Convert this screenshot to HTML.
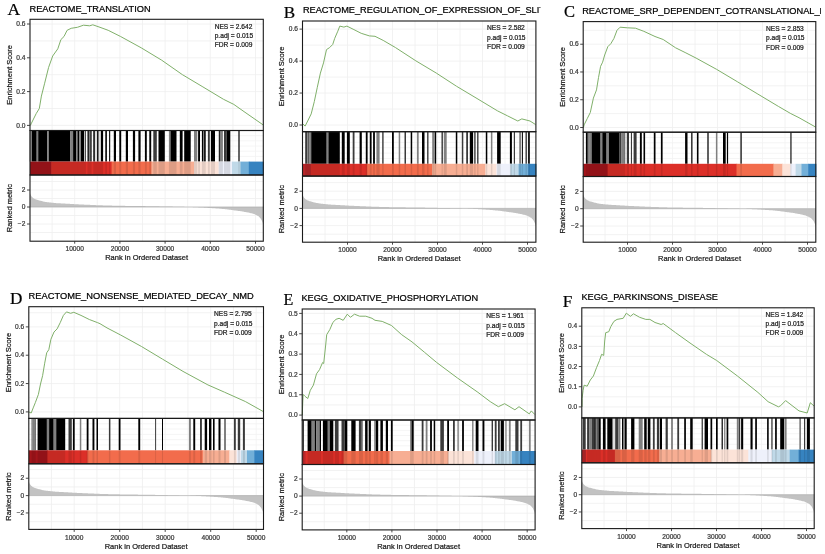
<!DOCTYPE html>
<html><head><meta charset="utf-8"><style>
html,body{margin:0;padding:0;background:#fff;}
svg{display:block;font-family:"Liberation Sans", sans-serif;filter:blur(0.5px);}
</style></head><body>
<svg width="825" height="554" viewBox="0 0 825 554" font-family='"Liberation Sans", sans-serif'>
<rect width="825" height="554" fill="#fff"/>
<line x1="30" y1="125.40" x2="263.3" y2="125.40" stroke="#efefef" stroke-width="0.8"/>
<line x1="30" y1="108.50" x2="263.3" y2="108.50" stroke="#efefef" stroke-width="0.8"/>
<line x1="30" y1="91.60" x2="263.3" y2="91.60" stroke="#efefef" stroke-width="0.8"/>
<line x1="30" y1="74.70" x2="263.3" y2="74.70" stroke="#efefef" stroke-width="0.8"/>
<line x1="30" y1="57.80" x2="263.3" y2="57.80" stroke="#efefef" stroke-width="0.8"/>
<line x1="30" y1="40.90" x2="263.3" y2="40.90" stroke="#efefef" stroke-width="0.8"/>
<line x1="30" y1="24.00" x2="263.3" y2="24.00" stroke="#efefef" stroke-width="0.8"/>
<line x1="52.10" y1="19.3" x2="52.10" y2="130.5" stroke="#efefef" stroke-width="0.8"/>
<line x1="52.10" y1="175" x2="52.10" y2="241.2" stroke="#efefef" stroke-width="0.8"/>
<line x1="52.10" y1="130.5" x2="52.10" y2="161.6" stroke="#f2f2f2" stroke-width="0.8"/>
<line x1="74.70" y1="19.3" x2="74.70" y2="130.5" stroke="#efefef" stroke-width="0.8"/>
<line x1="74.70" y1="175" x2="74.70" y2="241.2" stroke="#efefef" stroke-width="0.8"/>
<line x1="74.70" y1="130.5" x2="74.70" y2="161.6" stroke="#f2f2f2" stroke-width="0.8"/>
<line x1="97.30" y1="19.3" x2="97.30" y2="130.5" stroke="#efefef" stroke-width="0.8"/>
<line x1="97.30" y1="175" x2="97.30" y2="241.2" stroke="#efefef" stroke-width="0.8"/>
<line x1="97.30" y1="130.5" x2="97.30" y2="161.6" stroke="#f2f2f2" stroke-width="0.8"/>
<line x1="119.90" y1="19.3" x2="119.90" y2="130.5" stroke="#efefef" stroke-width="0.8"/>
<line x1="119.90" y1="175" x2="119.90" y2="241.2" stroke="#efefef" stroke-width="0.8"/>
<line x1="119.90" y1="130.5" x2="119.90" y2="161.6" stroke="#f2f2f2" stroke-width="0.8"/>
<line x1="142.50" y1="19.3" x2="142.50" y2="130.5" stroke="#efefef" stroke-width="0.8"/>
<line x1="142.50" y1="175" x2="142.50" y2="241.2" stroke="#efefef" stroke-width="0.8"/>
<line x1="142.50" y1="130.5" x2="142.50" y2="161.6" stroke="#f2f2f2" stroke-width="0.8"/>
<line x1="165.10" y1="19.3" x2="165.10" y2="130.5" stroke="#efefef" stroke-width="0.8"/>
<line x1="165.10" y1="175" x2="165.10" y2="241.2" stroke="#efefef" stroke-width="0.8"/>
<line x1="165.10" y1="130.5" x2="165.10" y2="161.6" stroke="#f2f2f2" stroke-width="0.8"/>
<line x1="187.70" y1="19.3" x2="187.70" y2="130.5" stroke="#efefef" stroke-width="0.8"/>
<line x1="187.70" y1="175" x2="187.70" y2="241.2" stroke="#efefef" stroke-width="0.8"/>
<line x1="187.70" y1="130.5" x2="187.70" y2="161.6" stroke="#f2f2f2" stroke-width="0.8"/>
<line x1="210.30" y1="19.3" x2="210.30" y2="130.5" stroke="#efefef" stroke-width="0.8"/>
<line x1="210.30" y1="175" x2="210.30" y2="241.2" stroke="#efefef" stroke-width="0.8"/>
<line x1="210.30" y1="130.5" x2="210.30" y2="161.6" stroke="#f2f2f2" stroke-width="0.8"/>
<line x1="232.90" y1="19.3" x2="232.90" y2="130.5" stroke="#efefef" stroke-width="0.8"/>
<line x1="232.90" y1="175" x2="232.90" y2="241.2" stroke="#efefef" stroke-width="0.8"/>
<line x1="232.90" y1="130.5" x2="232.90" y2="161.6" stroke="#f2f2f2" stroke-width="0.8"/>
<line x1="255.50" y1="19.3" x2="255.50" y2="130.5" stroke="#efefef" stroke-width="0.8"/>
<line x1="255.50" y1="175" x2="255.50" y2="241.2" stroke="#efefef" stroke-width="0.8"/>
<line x1="255.50" y1="130.5" x2="255.50" y2="161.6" stroke="#f2f2f2" stroke-width="0.8"/>
<line x1="30" y1="135.68" x2="263.3" y2="135.68" stroke="#f2f2f2" stroke-width="0.8"/>
<line x1="30" y1="140.87" x2="263.3" y2="140.87" stroke="#f2f2f2" stroke-width="0.8"/>
<line x1="30" y1="146.05" x2="263.3" y2="146.05" stroke="#f2f2f2" stroke-width="0.8"/>
<line x1="30" y1="151.23" x2="263.3" y2="151.23" stroke="#f2f2f2" stroke-width="0.8"/>
<line x1="30" y1="156.42" x2="263.3" y2="156.42" stroke="#f2f2f2" stroke-width="0.8"/>
<line x1="30" y1="232.50" x2="263.3" y2="232.50" stroke="#efefef" stroke-width="0.8"/>
<line x1="30" y1="224.00" x2="263.3" y2="224.00" stroke="#efefef" stroke-width="0.8"/>
<line x1="30" y1="215.50" x2="263.3" y2="215.50" stroke="#efefef" stroke-width="0.8"/>
<line x1="30" y1="207.00" x2="263.3" y2="207.00" stroke="#efefef" stroke-width="0.8"/>
<line x1="30" y1="198.50" x2="263.3" y2="198.50" stroke="#efefef" stroke-width="0.8"/>
<line x1="30" y1="190.00" x2="263.3" y2="190.00" stroke="#efefef" stroke-width="0.8"/>
<line x1="30" y1="181.50" x2="263.3" y2="181.50" stroke="#efefef" stroke-width="0.8"/>
<polyline points="30.50,125.40 31.10,123.90 33.50,119.00 36.20,113.60 39.30,108.50 41.40,96.10 44.50,83.80 48.60,67.40 52.70,56.00 57.80,48.80 60.90,39.60 64.00,36.50 67.10,30.30 71.20,28.30 77.40,27.30 83.50,25.20 89.70,25.80 92.80,24.80 100.00,27.30 108.20,30.30 120.60,36.50 141.20,47.80 161.70,60.20 182.30,74.60 202.90,86.90 223.50,99.30 233.80,104.40 244.00,111.60 263.00,124.80" fill="none" stroke="#80b06a" stroke-width="1.0" stroke-linejoin="round"/>
<rect x="29.60" y="130.5" width="2.30" height="31.10" fill="#808080"/>
<rect x="31.90" y="130.5" width="4.80" height="31.10" fill="#000000"/>
<rect x="36.70" y="130.5" width="1.50" height="31.10" fill="#808080"/>
<rect x="38.20" y="130.5" width="9.20" height="31.10" fill="#000000"/>
<rect x="47.40" y="130.5" width="1.40" height="31.10" fill="#808080"/>
<rect x="48.80" y="130.5" width="21.60" height="31.10" fill="#000000"/>
<rect x="70.40" y="130.5" width="2.70" height="31.10" fill="#808080"/>
<rect x="73.10" y="130.5" width="3.30" height="31.10" fill="#000000"/>
<rect x="76.40" y="130.5" width="1.10" height="31.10" fill="#808080"/>
<rect x="77.50" y="130.5" width="1.90" height="31.10" fill="#000000"/>
<rect x="79.40" y="130.5" width="1.60" height="31.10" fill="#808080"/>
<rect x="81.00" y="130.5" width="3.00" height="31.10" fill="#000000"/>
<rect x="84.00" y="130.5" width="0.80" height="31.10" fill="#dedede"/>
<rect x="84.80" y="130.5" width="1.10" height="31.10" fill="#3a3a3a"/>
<rect x="87.50" y="130.5" width="1.40" height="31.10" fill="#000000"/>
<rect x="88.90" y="130.5" width="1.40" height="31.10" fill="#808080"/>
<rect x="90.30" y="130.5" width="1.30" height="31.10" fill="#000000"/>
<rect x="93.30" y="130.5" width="1.60" height="31.10" fill="#000000"/>
<rect x="94.90" y="130.5" width="2.20" height="31.10" fill="#dedede"/>
<rect x="97.10" y="130.5" width="1.60" height="31.10" fill="#000000"/>
<rect x="98.70" y="130.5" width="2.20" height="31.10" fill="#dedede"/>
<rect x="100.90" y="130.5" width="2.20" height="31.10" fill="#000000"/>
<rect x="105.30" y="130.5" width="1.60" height="31.10" fill="#000000"/>
<rect x="109.10" y="130.5" width="1.10" height="31.10" fill="#000000"/>
<rect x="113.80" y="130.5" width="2.20" height="31.10" fill="#000000"/>
<rect x="119.30" y="130.5" width="1.90" height="31.10" fill="#000000"/>
<rect x="125.80" y="130.5" width="2.20" height="31.10" fill="#000000"/>
<rect x="132.90" y="130.5" width="2.20" height="31.10" fill="#000000"/>
<rect x="138.40" y="130.5" width="2.20" height="31.10" fill="#000000"/>
<rect x="144.90" y="130.5" width="1.90" height="31.10" fill="#000000"/>
<rect x="149.30" y="130.5" width="1.90" height="31.10" fill="#000000"/>
<rect x="153.30" y="130.5" width="3.50" height="31.10" fill="#3a3a3a"/>
<rect x="158.50" y="130.5" width="6.30" height="31.10" fill="#000000"/>
<rect x="168.90" y="130.5" width="1.60" height="31.10" fill="#808080"/>
<rect x="170.50" y="130.5" width="6.00" height="31.10" fill="#000000"/>
<rect x="179.80" y="130.5" width="2.80" height="31.10" fill="#000000"/>
<rect x="184.20" y="130.5" width="6.50" height="31.10" fill="#000000"/>
<rect x="194.00" y="130.5" width="3.30" height="31.10" fill="#808080"/>
<rect x="198.10" y="130.5" width="1.90" height="31.10" fill="#000000"/>
<rect x="201.90" y="130.5" width="1.10" height="31.10" fill="#000000"/>
<rect x="203.00" y="130.5" width="1.10" height="31.10" fill="#808080"/>
<rect x="204.10" y="130.5" width="1.60" height="31.10" fill="#000000"/>
<rect x="207.90" y="130.5" width="1.90" height="31.10" fill="#3a3a3a"/>
<rect x="210.90" y="130.5" width="4.10" height="31.10" fill="#000000"/>
<rect x="218.80" y="130.5" width="1.10" height="31.10" fill="#000000"/>
<rect x="219.90" y="130.5" width="3.00" height="31.10" fill="#808080"/>
<rect x="224.00" y="130.5" width="2.70" height="31.10" fill="#3a3a3a"/>
<rect x="226.70" y="130.5" width="3.60" height="31.10" fill="#000000"/>
<rect x="238.40" y="130.5" width="1.20" height="31.10" fill="#000000"/>
<rect x="30.00" y="161.6" width="21.90" height="13.40" fill="#a3151b"/>
<rect x="51.30" y="161.6" width="60.90" height="13.40" fill="#dc2f28"/>
<rect x="111.60" y="161.6" width="40.40" height="13.40" fill="#f26c4c"/>
<rect x="151.40" y="161.6" width="43.20" height="13.40" fill="#f7ae93"/>
<rect x="194.00" y="161.6" width="25.20" height="13.40" fill="#fce3d8"/>
<rect x="218.60" y="161.6" width="14.00" height="13.40" fill="#eef1fb"/>
<rect x="232.00" y="161.6" width="9.10" height="13.40" fill="#c0d9e8"/>
<rect x="240.50" y="161.6" width="8.90" height="13.40" fill="#72afd8"/>
<rect x="248.80" y="161.6" width="15.10" height="13.40" fill="#3683c0"/>
<rect x="29.60" y="161.6" width="2.30" height="13.40" fill="#000" opacity="0.10"/>
<rect x="31.90" y="161.6" width="4.80" height="13.40" fill="#000" opacity="0.10"/>
<rect x="36.70" y="161.6" width="1.50" height="13.40" fill="#000" opacity="0.10"/>
<rect x="38.20" y="161.6" width="9.20" height="13.40" fill="#000" opacity="0.10"/>
<rect x="47.40" y="161.6" width="1.40" height="13.40" fill="#000" opacity="0.10"/>
<rect x="48.80" y="161.6" width="21.60" height="13.40" fill="#000" opacity="0.10"/>
<rect x="70.40" y="161.6" width="2.70" height="13.40" fill="#000" opacity="0.10"/>
<rect x="73.10" y="161.6" width="3.30" height="13.40" fill="#000" opacity="0.10"/>
<rect x="76.40" y="161.6" width="1.10" height="13.40" fill="#000" opacity="0.10"/>
<rect x="77.50" y="161.6" width="1.90" height="13.40" fill="#000" opacity="0.10"/>
<rect x="79.40" y="161.6" width="1.60" height="13.40" fill="#000" opacity="0.10"/>
<rect x="81.00" y="161.6" width="3.00" height="13.40" fill="#000" opacity="0.10"/>
<rect x="84.00" y="161.6" width="0.80" height="13.40" fill="#000" opacity="0.10"/>
<rect x="84.80" y="161.6" width="1.10" height="13.40" fill="#000" opacity="0.10"/>
<rect x="87.50" y="161.6" width="1.40" height="13.40" fill="#000" opacity="0.10"/>
<rect x="88.90" y="161.6" width="1.40" height="13.40" fill="#000" opacity="0.10"/>
<rect x="90.30" y="161.6" width="1.30" height="13.40" fill="#000" opacity="0.10"/>
<rect x="93.30" y="161.6" width="1.60" height="13.40" fill="#000" opacity="0.10"/>
<rect x="94.90" y="161.6" width="2.20" height="13.40" fill="#000" opacity="0.10"/>
<rect x="97.10" y="161.6" width="1.60" height="13.40" fill="#000" opacity="0.10"/>
<rect x="98.70" y="161.6" width="2.20" height="13.40" fill="#000" opacity="0.10"/>
<rect x="100.90" y="161.6" width="2.20" height="13.40" fill="#000" opacity="0.10"/>
<rect x="105.30" y="161.6" width="1.60" height="13.40" fill="#000" opacity="0.10"/>
<rect x="109.10" y="161.6" width="1.10" height="13.40" fill="#000" opacity="0.10"/>
<rect x="113.80" y="161.6" width="2.20" height="13.40" fill="#000" opacity="0.10"/>
<rect x="119.30" y="161.6" width="1.90" height="13.40" fill="#000" opacity="0.10"/>
<rect x="125.80" y="161.6" width="2.20" height="13.40" fill="#000" opacity="0.10"/>
<rect x="132.90" y="161.6" width="2.20" height="13.40" fill="#000" opacity="0.10"/>
<rect x="138.40" y="161.6" width="2.20" height="13.40" fill="#000" opacity="0.10"/>
<rect x="144.90" y="161.6" width="1.90" height="13.40" fill="#000" opacity="0.10"/>
<rect x="149.30" y="161.6" width="1.90" height="13.40" fill="#000" opacity="0.10"/>
<rect x="153.30" y="161.6" width="3.50" height="13.40" fill="#000" opacity="0.10"/>
<rect x="158.50" y="161.6" width="6.30" height="13.40" fill="#000" opacity="0.10"/>
<rect x="168.90" y="161.6" width="1.60" height="13.40" fill="#000" opacity="0.10"/>
<rect x="170.50" y="161.6" width="6.00" height="13.40" fill="#000" opacity="0.10"/>
<rect x="179.80" y="161.6" width="2.80" height="13.40" fill="#000" opacity="0.10"/>
<rect x="184.20" y="161.6" width="6.50" height="13.40" fill="#000" opacity="0.10"/>
<rect x="194.00" y="161.6" width="3.30" height="13.40" fill="#000" opacity="0.10"/>
<rect x="198.10" y="161.6" width="1.90" height="13.40" fill="#000" opacity="0.10"/>
<rect x="201.90" y="161.6" width="1.10" height="13.40" fill="#000" opacity="0.10"/>
<rect x="203.00" y="161.6" width="1.10" height="13.40" fill="#000" opacity="0.10"/>
<rect x="204.10" y="161.6" width="1.60" height="13.40" fill="#000" opacity="0.10"/>
<rect x="207.90" y="161.6" width="1.90" height="13.40" fill="#000" opacity="0.10"/>
<rect x="210.90" y="161.6" width="4.10" height="13.40" fill="#000" opacity="0.10"/>
<rect x="218.80" y="161.6" width="1.10" height="13.40" fill="#000" opacity="0.10"/>
<rect x="219.90" y="161.6" width="3.00" height="13.40" fill="#000" opacity="0.10"/>
<rect x="224.00" y="161.6" width="2.70" height="13.40" fill="#000" opacity="0.10"/>
<rect x="226.70" y="161.6" width="3.60" height="13.40" fill="#000" opacity="0.10"/>
<rect x="238.40" y="161.6" width="1.20" height="13.40" fill="#000" opacity="0.10"/>
<polygon points="30.00,207.00 30.00,193.23 30.78,195.07 31.56,196.49 32.33,197.25 33.11,197.95 33.89,198.57 34.67,198.90 35.44,199.23 36.22,199.56 37.00,199.82 37.78,200.04 38.55,200.26 39.33,200.47 40.11,200.68 40.89,200.87 41.66,201.06 42.44,201.26 43.22,201.45 44.00,201.65 44.78,201.77 45.55,201.90 46.33,202.02 47.11,202.15 47.89,202.27 48.66,202.37 49.44,202.45 50.22,202.52 51.00,202.60 51.77,202.68 52.55,202.75 53.33,202.83 54.11,202.91 54.89,202.98 55.66,203.06 56.44,203.14 57.22,203.20 58.00,203.24 58.77,203.28 59.55,203.32 60.33,203.36 61.11,203.40 61.88,203.44 62.66,203.48 63.44,203.53 64.22,203.57 65.00,203.61 65.77,203.65 66.55,203.69 67.33,203.73 68.11,203.77 68.88,203.82 69.66,203.87 70.44,203.91 71.22,203.96 71.99,204.00 72.77,204.05 73.55,204.10 74.33,204.14 75.10,204.19 75.88,204.23 76.66,204.28 77.44,204.31 78.22,204.35 78.99,204.38 79.77,204.42 80.55,204.45 81.33,204.49 82.10,204.52 82.88,204.56 83.66,204.59 84.44,204.63 85.21,204.66 85.99,204.69 86.77,204.73 87.55,204.76 88.33,204.80 89.10,204.83 89.88,204.86 90.66,204.90 91.44,204.93 92.21,204.96 92.99,205.00 93.77,205.03 94.55,205.06 95.32,205.10 96.10,205.13 96.88,205.17 97.66,205.20 98.43,205.23 99.21,205.27 99.99,205.30 100.77,205.32 101.55,205.34 102.32,205.36 103.10,205.39 103.88,205.41 104.66,205.43 105.43,205.45 106.21,205.47 106.99,205.49 107.77,205.51 108.54,205.54 109.32,205.56 110.10,205.58 110.88,205.60 111.66,205.62 112.43,205.64 113.21,205.66 113.99,205.69 114.77,205.71 115.54,205.73 116.32,205.74 117.10,205.75 117.88,205.76 118.65,205.77 119.43,205.78 120.21,205.80 120.99,205.81 121.76,205.82 122.54,205.83 123.32,205.84 124.10,205.85 124.88,205.87 125.65,205.88 126.43,205.89 127.21,205.90 127.99,205.91 128.76,205.92 129.54,205.93 130.32,205.95 131.10,205.96 131.87,205.97 132.65,205.98 133.43,205.99 134.21,206.00 134.99,206.01 135.76,206.01 136.54,206.02 137.32,206.03 138.10,206.04 138.87,206.05 139.65,206.06 140.43,206.07 141.21,206.07 141.98,206.08 142.76,206.09 143.54,206.10 144.32,206.11 145.09,206.12 145.87,206.13 146.65,206.13 147.43,206.14 148.21,206.15 148.98,206.17 149.76,206.18 150.54,206.20 151.32,206.21 152.09,206.23 152.87,206.24 153.65,206.26 154.43,206.27 155.20,206.29 155.98,206.30 156.76,206.32 157.54,206.33 158.32,206.35 159.09,206.36 159.87,206.38 160.65,206.39 161.43,206.41 162.20,206.42 162.98,206.44 163.76,206.45 164.54,206.47 165.31,206.48 166.09,206.50 166.87,206.51 167.65,206.53 168.42,206.54 169.20,206.56 169.98,206.57 170.76,206.59 171.54,206.61 172.31,206.62 173.09,206.64 173.87,206.66 174.65,206.67 175.42,206.69 176.20,206.71 176.98,206.72 177.76,206.74 178.53,206.76 179.31,206.77 180.09,206.79 180.87,206.81 181.65,206.82 182.42,206.84 183.20,206.86 183.98,206.87 184.76,206.89 185.53,206.90 186.31,206.92 187.09,206.94 187.87,206.95 188.64,206.97 189.42,206.99 190.20,207.01 190.98,207.04 191.75,207.08 192.53,207.11 193.31,207.15 194.09,207.18 194.87,207.22 195.64,207.25 196.42,207.29 197.20,207.33 197.98,207.36 198.75,207.40 199.53,207.43 200.31,207.47 201.09,207.50 201.86,207.54 202.64,207.57 203.42,207.61 204.20,207.64 204.98,207.68 205.75,207.73 206.53,207.78 207.31,207.83 208.09,207.88 208.86,207.93 209.64,207.98 210.42,208.03 211.20,208.08 211.97,208.13 212.75,208.18 213.53,208.23 214.31,208.28 215.08,208.33 215.86,208.38 216.64,208.43 217.42,208.48 218.20,208.53 218.97,208.58 219.75,208.65 220.53,208.72 221.31,208.80 222.08,208.88 222.86,208.96 223.64,209.03 224.42,209.11 225.19,209.19 225.97,209.26 226.75,209.34 227.53,209.43 228.31,209.54 229.08,209.65 229.86,209.76 230.64,209.86 231.42,209.97 232.19,210.08 232.97,210.19 233.75,210.29 234.53,210.40 235.30,210.50 236.08,210.60 236.86,210.70 237.64,210.80 238.41,210.90 239.19,211.00 239.97,211.10 240.75,211.20 241.53,211.32 242.30,211.46 243.08,211.60 243.86,211.75 244.64,211.89 245.41,212.03 246.19,212.17 246.97,212.31 247.75,212.45 248.52,212.62 249.30,212.80 250.08,212.99 250.86,213.17 251.63,213.35 252.41,213.54 253.19,213.77 253.97,214.06 254.75,214.34 255.52,214.65 256.30,215.07 257.08,215.50 257.86,215.93 258.63,216.35 259.41,217.20 260.19,218.05 260.97,218.90 261.74,220.51 262.52,222.23 263.30,224.43 263.30,207.00" fill="#c2c2c2" stroke="none"/>
<line x1="30" y1="207.00" x2="263.3" y2="207.00" stroke="#a8a8a8" stroke-width="0.6"/>
<rect x="30" y="19.3" width="233.30" height="111.20" fill="none" stroke="#1a1a1a" stroke-width="1.1"/>
<rect x="30" y="130.5" width="233.30" height="44.50" fill="none" stroke="#1a1a1a" stroke-width="1.1"/>
<rect x="30" y="175" width="233.30" height="66.20" fill="none" stroke="#1a1a1a" stroke-width="1.1"/>
<line x1="27" y1="125.40" x2="30" y2="125.40" stroke="#333" stroke-width="0.9"/>
<text x="25.4" y="127.60" text-anchor="end" font-size="6.6" fill="#383838" stroke="#383838" stroke-width="0.22">0.0</text>
<line x1="27" y1="91.60" x2="30" y2="91.60" stroke="#333" stroke-width="0.9"/>
<text x="25.4" y="93.80" text-anchor="end" font-size="6.6" fill="#383838" stroke="#383838" stroke-width="0.22">0.2</text>
<line x1="27" y1="57.80" x2="30" y2="57.80" stroke="#333" stroke-width="0.9"/>
<text x="25.4" y="60.00" text-anchor="end" font-size="6.6" fill="#383838" stroke="#383838" stroke-width="0.22">0.4</text>
<line x1="27" y1="24.00" x2="30" y2="24.00" stroke="#333" stroke-width="0.9"/>
<text x="25.4" y="26.20" text-anchor="end" font-size="6.6" fill="#383838" stroke="#383838" stroke-width="0.22">0.6</text>
<line x1="27" y1="190.00" x2="30" y2="190.00" stroke="#333" stroke-width="0.9"/>
<text x="25.4" y="192.20" text-anchor="end" font-size="6.6" fill="#383838" stroke="#383838" stroke-width="0.22">2</text>
<line x1="27" y1="207.00" x2="30" y2="207.00" stroke="#333" stroke-width="0.9"/>
<text x="25.4" y="209.20" text-anchor="end" font-size="6.6" fill="#383838" stroke="#383838" stroke-width="0.22">0</text>
<line x1="27" y1="224.00" x2="30" y2="224.00" stroke="#333" stroke-width="0.9"/>
<text x="25.4" y="226.20" text-anchor="end" font-size="6.6" fill="#383838" stroke="#383838" stroke-width="0.22">−2</text>
<line x1="74.70" y1="241.2" x2="74.70" y2="243.7" stroke="#333" stroke-width="0.9"/>
<text x="74.70" y="250.50" text-anchor="middle" font-size="6.6" fill="#383838" stroke="#383838" stroke-width="0.22">10000</text>
<line x1="119.90" y1="241.2" x2="119.90" y2="243.7" stroke="#333" stroke-width="0.9"/>
<text x="119.90" y="250.50" text-anchor="middle" font-size="6.6" fill="#383838" stroke="#383838" stroke-width="0.22">20000</text>
<line x1="165.10" y1="241.2" x2="165.10" y2="243.7" stroke="#333" stroke-width="0.9"/>
<text x="165.10" y="250.50" text-anchor="middle" font-size="6.6" fill="#383838" stroke="#383838" stroke-width="0.22">30000</text>
<line x1="210.30" y1="241.2" x2="210.30" y2="243.7" stroke="#333" stroke-width="0.9"/>
<text x="210.30" y="250.50" text-anchor="middle" font-size="6.6" fill="#383838" stroke="#383838" stroke-width="0.22">40000</text>
<line x1="255.50" y1="241.2" x2="255.50" y2="243.7" stroke="#333" stroke-width="0.9"/>
<text x="255.50" y="250.50" text-anchor="middle" font-size="6.6" fill="#383838" stroke="#383838" stroke-width="0.22">50000</text>
<text x="146.65" y="259.90" text-anchor="middle" font-size="7.5" fill="#1a1a1a" stroke="#1a1a1a" stroke-width="0.22">Rank in Ordered Dataset</text>
<text transform="translate(11.80,74.90) rotate(-90)" text-anchor="middle" font-size="7.5" fill="#1a1a1a" stroke="#1a1a1a" stroke-width="0.22">Enrichment Score</text>
<text transform="translate(11.80,208.10) rotate(-90)" text-anchor="middle" font-size="7.5" fill="#1a1a1a" stroke="#1a1a1a" stroke-width="0.22">Ranked metric</text>
<text x="214.70" y="28.50" font-size="6.62" fill="#1a1a1a" stroke="#1a1a1a" stroke-width="0.22">NES = 2.642</text>
<text x="214.70" y="38.30" font-size="6.62" fill="#1a1a1a" stroke="#1a1a1a" stroke-width="0.22">p.adj = 0.015</text>
<text x="214.70" y="47.00" font-size="6.62" fill="#1a1a1a" stroke="#1a1a1a" stroke-width="0.22">FDR = 0.009</text>
<text x="7.60" y="14.90" font-family='"Liberation Serif", serif' font-size="17.5" fill="#000" stroke="#000" stroke-width="0.22">A</text>
<text x="29.50" y="11.50" font-size="9.23" fill="#000" stroke="#000" stroke-width="0.22">REACTOME_TRANSLATION</text>
<line x1="302.5" y1="125.00" x2="535.9" y2="125.00" stroke="#efefef" stroke-width="0.8"/>
<line x1="302.5" y1="109.02" x2="535.9" y2="109.02" stroke="#efefef" stroke-width="0.8"/>
<line x1="302.5" y1="93.04" x2="535.9" y2="93.04" stroke="#efefef" stroke-width="0.8"/>
<line x1="302.5" y1="77.06" x2="535.9" y2="77.06" stroke="#efefef" stroke-width="0.8"/>
<line x1="302.5" y1="61.08" x2="535.9" y2="61.08" stroke="#efefef" stroke-width="0.8"/>
<line x1="302.5" y1="45.10" x2="535.9" y2="45.10" stroke="#efefef" stroke-width="0.8"/>
<line x1="302.5" y1="29.12" x2="535.9" y2="29.12" stroke="#efefef" stroke-width="0.8"/>
<line x1="325.00" y1="21" x2="325.00" y2="131.7" stroke="#efefef" stroke-width="0.8"/>
<line x1="325.00" y1="176.1" x2="325.00" y2="242.2" stroke="#efefef" stroke-width="0.8"/>
<line x1="325.00" y1="131.7" x2="325.00" y2="163.8" stroke="#f2f2f2" stroke-width="0.8"/>
<line x1="347.50" y1="21" x2="347.50" y2="131.7" stroke="#efefef" stroke-width="0.8"/>
<line x1="347.50" y1="176.1" x2="347.50" y2="242.2" stroke="#efefef" stroke-width="0.8"/>
<line x1="347.50" y1="131.7" x2="347.50" y2="163.8" stroke="#f2f2f2" stroke-width="0.8"/>
<line x1="370.00" y1="21" x2="370.00" y2="131.7" stroke="#efefef" stroke-width="0.8"/>
<line x1="370.00" y1="176.1" x2="370.00" y2="242.2" stroke="#efefef" stroke-width="0.8"/>
<line x1="370.00" y1="131.7" x2="370.00" y2="163.8" stroke="#f2f2f2" stroke-width="0.8"/>
<line x1="392.50" y1="21" x2="392.50" y2="131.7" stroke="#efefef" stroke-width="0.8"/>
<line x1="392.50" y1="176.1" x2="392.50" y2="242.2" stroke="#efefef" stroke-width="0.8"/>
<line x1="392.50" y1="131.7" x2="392.50" y2="163.8" stroke="#f2f2f2" stroke-width="0.8"/>
<line x1="415.00" y1="21" x2="415.00" y2="131.7" stroke="#efefef" stroke-width="0.8"/>
<line x1="415.00" y1="176.1" x2="415.00" y2="242.2" stroke="#efefef" stroke-width="0.8"/>
<line x1="415.00" y1="131.7" x2="415.00" y2="163.8" stroke="#f2f2f2" stroke-width="0.8"/>
<line x1="437.50" y1="21" x2="437.50" y2="131.7" stroke="#efefef" stroke-width="0.8"/>
<line x1="437.50" y1="176.1" x2="437.50" y2="242.2" stroke="#efefef" stroke-width="0.8"/>
<line x1="437.50" y1="131.7" x2="437.50" y2="163.8" stroke="#f2f2f2" stroke-width="0.8"/>
<line x1="460.00" y1="21" x2="460.00" y2="131.7" stroke="#efefef" stroke-width="0.8"/>
<line x1="460.00" y1="176.1" x2="460.00" y2="242.2" stroke="#efefef" stroke-width="0.8"/>
<line x1="460.00" y1="131.7" x2="460.00" y2="163.8" stroke="#f2f2f2" stroke-width="0.8"/>
<line x1="482.50" y1="21" x2="482.50" y2="131.7" stroke="#efefef" stroke-width="0.8"/>
<line x1="482.50" y1="176.1" x2="482.50" y2="242.2" stroke="#efefef" stroke-width="0.8"/>
<line x1="482.50" y1="131.7" x2="482.50" y2="163.8" stroke="#f2f2f2" stroke-width="0.8"/>
<line x1="505.00" y1="21" x2="505.00" y2="131.7" stroke="#efefef" stroke-width="0.8"/>
<line x1="505.00" y1="176.1" x2="505.00" y2="242.2" stroke="#efefef" stroke-width="0.8"/>
<line x1="505.00" y1="131.7" x2="505.00" y2="163.8" stroke="#f2f2f2" stroke-width="0.8"/>
<line x1="527.50" y1="21" x2="527.50" y2="131.7" stroke="#efefef" stroke-width="0.8"/>
<line x1="527.50" y1="176.1" x2="527.50" y2="242.2" stroke="#efefef" stroke-width="0.8"/>
<line x1="527.50" y1="131.7" x2="527.50" y2="163.8" stroke="#f2f2f2" stroke-width="0.8"/>
<line x1="302.5" y1="137.05" x2="535.9" y2="137.05" stroke="#f2f2f2" stroke-width="0.8"/>
<line x1="302.5" y1="142.40" x2="535.9" y2="142.40" stroke="#f2f2f2" stroke-width="0.8"/>
<line x1="302.5" y1="147.75" x2="535.9" y2="147.75" stroke="#f2f2f2" stroke-width="0.8"/>
<line x1="302.5" y1="153.10" x2="535.9" y2="153.10" stroke="#f2f2f2" stroke-width="0.8"/>
<line x1="302.5" y1="158.45" x2="535.9" y2="158.45" stroke="#f2f2f2" stroke-width="0.8"/>
<line x1="302.5" y1="234.20" x2="535.9" y2="234.20" stroke="#efefef" stroke-width="0.8"/>
<line x1="302.5" y1="225.60" x2="535.9" y2="225.60" stroke="#efefef" stroke-width="0.8"/>
<line x1="302.5" y1="217.00" x2="535.9" y2="217.00" stroke="#efefef" stroke-width="0.8"/>
<line x1="302.5" y1="208.40" x2="535.9" y2="208.40" stroke="#efefef" stroke-width="0.8"/>
<line x1="302.5" y1="199.80" x2="535.9" y2="199.80" stroke="#efefef" stroke-width="0.8"/>
<line x1="302.5" y1="191.20" x2="535.9" y2="191.20" stroke="#efefef" stroke-width="0.8"/>
<line x1="302.5" y1="182.60" x2="535.9" y2="182.60" stroke="#efefef" stroke-width="0.8"/>
<polyline points="302.80,125.00 303.10,124.10 305.10,126.10 308.20,120.00 311.20,113.90 314.30,101.60 317.30,87.30 320.40,73.10 323.50,62.90 326.50,49.60 329.60,47.60 332.70,44.50 334.70,38.40 337.80,31.20 339.80,26.10 343.90,27.10 346.90,26.10 353.10,29.20 361.20,33.30 369.40,35.90 375.00,36.30 383.20,40.40 395.40,47.50 415.80,60.80 436.20,73.00 456.60,86.30 477.00,98.50 497.40,110.80 507.60,115.90 517.80,121.00 521.80,118.90 530.00,121.00 535.50,124.50" fill="none" stroke="#80b06a" stroke-width="1.0" stroke-linejoin="round"/>
<rect x="305.20" y="131.7" width="1.90" height="32.10" fill="#3a3a3a"/>
<rect x="307.10" y="131.7" width="1.10" height="32.10" fill="#808080"/>
<rect x="308.20" y="131.7" width="1.30" height="32.10" fill="#3a3a3a"/>
<rect x="309.50" y="131.7" width="1.70" height="32.10" fill="#808080"/>
<rect x="311.20" y="131.7" width="15.50" height="32.10" fill="#000000"/>
<rect x="326.70" y="131.7" width="1.70" height="32.10" fill="#808080"/>
<rect x="328.40" y="131.7" width="11.40" height="32.10" fill="#000000"/>
<rect x="341.80" y="131.7" width="2.90" height="32.10" fill="#000000"/>
<rect x="346.90" y="131.7" width="2.90" height="32.10" fill="#000000"/>
<rect x="352.70" y="131.7" width="1.80" height="32.10" fill="#3a3a3a"/>
<rect x="359.60" y="131.7" width="2.20" height="32.10" fill="#000000"/>
<rect x="365.80" y="131.7" width="1.80" height="32.10" fill="#000000"/>
<rect x="369.80" y="131.7" width="1.80" height="32.10" fill="#000000"/>
<rect x="373.10" y="131.7" width="1.80" height="32.10" fill="#000000"/>
<rect x="376.40" y="131.7" width="3.20" height="32.10" fill="#808080"/>
<rect x="382.20" y="131.7" width="1.40" height="32.10" fill="#3a3a3a"/>
<rect x="392.00" y="131.7" width="1.80" height="32.10" fill="#000000"/>
<rect x="398.70" y="131.7" width="1.50" height="32.10" fill="#808080"/>
<rect x="404.50" y="131.7" width="1.50" height="32.10" fill="#3a3a3a"/>
<rect x="410.70" y="131.7" width="1.50" height="32.10" fill="#000000"/>
<rect x="416.90" y="131.7" width="1.80" height="32.10" fill="#808080"/>
<rect x="422.00" y="131.7" width="2.50" height="32.10" fill="#000000"/>
<rect x="427.10" y="131.7" width="1.40" height="32.10" fill="#3a3a3a"/>
<rect x="432.20" y="131.7" width="2.20" height="32.10" fill="#808080"/>
<rect x="434.70" y="131.7" width="1.50" height="32.10" fill="#000000"/>
<rect x="441.60" y="131.7" width="1.10" height="32.10" fill="#000000"/>
<rect x="443.80" y="131.7" width="2.90" height="32.10" fill="#808080"/>
<rect x="455.80" y="131.7" width="1.50" height="32.10" fill="#000000"/>
<rect x="461.80" y="131.7" width="1.50" height="32.10" fill="#3a3a3a"/>
<rect x="466.20" y="131.7" width="1.80" height="32.10" fill="#3a3a3a"/>
<rect x="469.80" y="131.7" width="3.30" height="32.10" fill="#000000"/>
<rect x="474.20" y="131.7" width="1.40" height="32.10" fill="#3a3a3a"/>
<rect x="477.10" y="131.7" width="1.40" height="32.10" fill="#3a3a3a"/>
<rect x="485.80" y="131.7" width="1.50" height="32.10" fill="#000000"/>
<rect x="490.90" y="131.7" width="1.50" height="32.10" fill="#808080"/>
<rect x="497.10" y="131.7" width="3.60" height="32.10" fill="#000000"/>
<rect x="509.90" y="131.7" width="2.00" height="32.10" fill="#000000"/>
<rect x="513.80" y="131.7" width="1.20" height="32.10" fill="#3a3a3a"/>
<rect x="519.20" y="131.7" width="2.10" height="32.10" fill="#808080"/>
<rect x="522.10" y="131.7" width="0.90" height="32.10" fill="#000000"/>
<rect x="525.50" y="131.7" width="1.40" height="32.10" fill="#3a3a3a"/>
<rect x="528.10" y="131.7" width="1.70" height="32.10" fill="#000000"/>
<rect x="302.50" y="163.8" width="9.00" height="12.30" fill="#b8272a"/>
<rect x="310.90" y="163.8" width="56.60" height="12.30" fill="#dc2f28"/>
<rect x="366.90" y="163.8" width="65.70" height="12.30" fill="#f26c4c"/>
<rect x="432.00" y="163.8" width="53.90" height="12.30" fill="#f7ae93"/>
<rect x="485.30" y="163.8" width="11.70" height="12.30" fill="#fce3d8"/>
<rect x="496.40" y="163.8" width="14.60" height="12.30" fill="#eef1fb"/>
<rect x="510.40" y="163.8" width="8.80" height="12.30" fill="#c0d9e8"/>
<rect x="518.60" y="163.8" width="10.20" height="12.30" fill="#72afd8"/>
<rect x="528.20" y="163.8" width="8.30" height="12.30" fill="#3683c0"/>
<rect x="305.20" y="163.8" width="1.90" height="12.30" fill="#000" opacity="0.10"/>
<rect x="307.10" y="163.8" width="1.10" height="12.30" fill="#000" opacity="0.10"/>
<rect x="308.20" y="163.8" width="1.30" height="12.30" fill="#000" opacity="0.10"/>
<rect x="309.50" y="163.8" width="1.70" height="12.30" fill="#000" opacity="0.10"/>
<rect x="311.20" y="163.8" width="15.50" height="12.30" fill="#000" opacity="0.10"/>
<rect x="326.70" y="163.8" width="1.70" height="12.30" fill="#000" opacity="0.10"/>
<rect x="328.40" y="163.8" width="11.40" height="12.30" fill="#000" opacity="0.10"/>
<rect x="341.80" y="163.8" width="2.90" height="12.30" fill="#000" opacity="0.10"/>
<rect x="346.90" y="163.8" width="2.90" height="12.30" fill="#000" opacity="0.10"/>
<rect x="352.70" y="163.8" width="1.80" height="12.30" fill="#000" opacity="0.10"/>
<rect x="359.60" y="163.8" width="2.20" height="12.30" fill="#000" opacity="0.10"/>
<rect x="365.80" y="163.8" width="1.80" height="12.30" fill="#000" opacity="0.10"/>
<rect x="369.80" y="163.8" width="1.80" height="12.30" fill="#000" opacity="0.10"/>
<rect x="373.10" y="163.8" width="1.80" height="12.30" fill="#000" opacity="0.10"/>
<rect x="376.40" y="163.8" width="3.20" height="12.30" fill="#000" opacity="0.10"/>
<rect x="382.20" y="163.8" width="1.40" height="12.30" fill="#000" opacity="0.10"/>
<rect x="392.00" y="163.8" width="1.80" height="12.30" fill="#000" opacity="0.10"/>
<rect x="398.70" y="163.8" width="1.50" height="12.30" fill="#000" opacity="0.10"/>
<rect x="404.50" y="163.8" width="1.50" height="12.30" fill="#000" opacity="0.10"/>
<rect x="410.70" y="163.8" width="1.50" height="12.30" fill="#000" opacity="0.10"/>
<rect x="416.90" y="163.8" width="1.80" height="12.30" fill="#000" opacity="0.10"/>
<rect x="422.00" y="163.8" width="2.50" height="12.30" fill="#000" opacity="0.10"/>
<rect x="427.10" y="163.8" width="1.40" height="12.30" fill="#000" opacity="0.10"/>
<rect x="432.20" y="163.8" width="2.20" height="12.30" fill="#000" opacity="0.10"/>
<rect x="434.70" y="163.8" width="1.50" height="12.30" fill="#000" opacity="0.10"/>
<rect x="441.60" y="163.8" width="1.10" height="12.30" fill="#000" opacity="0.10"/>
<rect x="443.80" y="163.8" width="2.90" height="12.30" fill="#000" opacity="0.10"/>
<rect x="455.80" y="163.8" width="1.50" height="12.30" fill="#000" opacity="0.10"/>
<rect x="461.80" y="163.8" width="1.50" height="12.30" fill="#000" opacity="0.10"/>
<rect x="466.20" y="163.8" width="1.80" height="12.30" fill="#000" opacity="0.10"/>
<rect x="469.80" y="163.8" width="3.30" height="12.30" fill="#000" opacity="0.10"/>
<rect x="474.20" y="163.8" width="1.40" height="12.30" fill="#000" opacity="0.10"/>
<rect x="477.10" y="163.8" width="1.40" height="12.30" fill="#000" opacity="0.10"/>
<rect x="485.80" y="163.8" width="1.50" height="12.30" fill="#000" opacity="0.10"/>
<rect x="490.90" y="163.8" width="1.50" height="12.30" fill="#000" opacity="0.10"/>
<rect x="497.10" y="163.8" width="3.60" height="12.30" fill="#000" opacity="0.10"/>
<rect x="509.90" y="163.8" width="2.00" height="12.30" fill="#000" opacity="0.10"/>
<rect x="513.80" y="163.8" width="1.20" height="12.30" fill="#000" opacity="0.10"/>
<rect x="519.20" y="163.8" width="2.10" height="12.30" fill="#000" opacity="0.10"/>
<rect x="522.10" y="163.8" width="0.90" height="12.30" fill="#000" opacity="0.10"/>
<rect x="525.50" y="163.8" width="1.40" height="12.30" fill="#000" opacity="0.10"/>
<rect x="528.10" y="163.8" width="1.70" height="12.30" fill="#000" opacity="0.10"/>
<polygon points="302.50,208.40 302.50,194.47 303.28,196.33 304.06,197.76 304.83,198.54 305.61,199.24 306.39,199.87 307.17,200.20 307.95,200.54 308.72,200.87 309.50,201.14 310.28,201.36 311.06,201.58 311.84,201.80 312.61,202.00 313.39,202.20 314.17,202.39 314.95,202.59 315.73,202.79 316.50,202.98 317.28,203.11 318.06,203.24 318.84,203.36 319.62,203.49 320.39,203.62 321.17,203.72 321.95,203.79 322.73,203.87 323.51,203.95 324.28,204.03 325.06,204.10 325.84,204.18 326.62,204.26 327.40,204.34 328.17,204.41 328.95,204.49 329.73,204.55 330.51,204.59 331.29,204.63 332.06,204.68 332.84,204.72 333.62,204.76 334.40,204.80 335.18,204.84 335.95,204.89 336.73,204.93 337.51,204.97 338.29,205.01 339.07,205.05 339.84,205.09 340.62,205.14 341.40,205.18 342.18,205.23 342.96,205.28 343.73,205.32 344.51,205.37 345.29,205.42 346.07,205.46 346.85,205.51 347.62,205.56 348.40,205.60 349.18,205.65 349.96,205.68 350.74,205.72 351.51,205.75 352.29,205.79 353.07,205.82 353.85,205.86 354.63,205.89 355.40,205.93 356.18,205.96 356.96,206.00 357.74,206.03 358.52,206.07 359.29,206.10 360.07,206.14 360.85,206.17 361.63,206.20 362.41,206.24 363.18,206.27 363.96,206.31 364.74,206.34 365.52,206.37 366.30,206.41 367.07,206.44 367.85,206.48 368.63,206.51 369.41,206.54 370.19,206.58 370.96,206.61 371.74,206.65 372.52,206.68 373.30,206.70 374.08,206.72 374.85,206.75 375.63,206.77 376.41,206.79 377.19,206.81 377.97,206.83 378.74,206.85 379.52,206.88 380.30,206.90 381.08,206.92 381.86,206.94 382.63,206.96 383.41,206.98 384.19,207.01 384.97,207.03 385.75,207.05 386.52,207.07 387.30,207.09 388.08,207.11 388.86,207.12 389.64,207.14 390.41,207.15 391.19,207.16 391.97,207.17 392.75,207.18 393.53,207.19 394.30,207.21 395.08,207.22 395.86,207.23 396.64,207.24 397.42,207.25 398.19,207.26 398.97,207.28 399.75,207.29 400.53,207.30 401.31,207.31 402.08,207.32 402.86,207.33 403.64,207.34 404.42,207.36 405.20,207.37 405.97,207.38 406.75,207.39 407.53,207.39 408.31,207.40 409.09,207.41 409.86,207.42 410.64,207.43 411.42,207.44 412.20,207.45 412.98,207.45 413.75,207.46 414.53,207.47 415.31,207.48 416.09,207.49 416.87,207.50 417.64,207.51 418.42,207.52 419.20,207.52 419.98,207.53 420.76,207.54 421.53,207.56 422.31,207.57 423.09,207.59 423.87,207.60 424.65,207.62 425.42,207.63 426.20,207.65 426.98,207.67 427.76,207.68 428.54,207.70 429.31,207.71 430.09,207.73 430.87,207.74 431.65,207.76 432.43,207.77 433.20,207.79 433.98,207.80 434.76,207.82 435.54,207.83 436.32,207.85 437.09,207.86 437.87,207.88 438.65,207.89 439.43,207.91 440.21,207.92 440.98,207.94 441.76,207.95 442.54,207.97 443.32,207.99 444.10,208.00 444.87,208.02 445.65,208.04 446.43,208.05 447.21,208.07 447.99,208.09 448.76,208.10 449.54,208.12 450.32,208.14 451.10,208.15 451.88,208.17 452.65,208.19 453.43,208.20 454.21,208.22 454.99,208.24 455.77,208.25 456.54,208.27 457.32,208.29 458.10,208.30 458.88,208.32 459.66,208.34 460.43,208.35 461.21,208.37 461.99,208.39 462.77,208.41 463.55,208.44 464.32,208.48 465.10,208.51 465.88,208.55 466.66,208.59 467.44,208.62 468.21,208.66 468.99,208.69 469.77,208.73 470.55,208.77 471.33,208.80 472.10,208.84 472.88,208.87 473.66,208.91 474.44,208.94 475.22,208.98 475.99,209.02 476.77,209.05 477.55,209.09 478.33,209.14 479.11,209.19 479.88,209.24 480.66,209.29 481.44,209.34 482.22,209.39 483.00,209.44 483.77,209.49 484.55,209.55 485.33,209.60 486.11,209.65 486.89,209.70 487.66,209.75 488.44,209.80 489.22,209.85 490.00,209.90 490.78,209.95 491.55,210.00 492.33,210.07 493.11,210.14 493.89,210.22 494.67,210.30 495.44,210.38 496.22,210.46 497.00,210.53 497.78,210.61 498.56,210.69 499.33,210.77 500.11,210.86 500.89,210.97 501.67,211.08 502.45,211.19 503.22,211.30 504.00,211.41 504.78,211.51 505.56,211.62 506.34,211.73 507.11,211.84 507.89,211.94 508.67,212.04 509.45,212.14 510.23,212.24 511.00,212.34 511.78,212.45 512.56,212.55 513.34,212.65 514.12,212.77 514.89,212.91 515.67,213.06 516.45,213.20 517.23,213.34 518.01,213.49 518.78,213.63 519.56,213.78 520.34,213.92 521.12,214.08 521.90,214.27 522.67,214.46 523.45,214.64 524.23,214.83 525.01,215.01 525.79,215.25 526.56,215.54 527.34,215.82 528.12,216.14 528.90,216.57 529.68,217.00 530.45,217.43 531.23,217.86 532.01,218.72 532.79,219.58 533.57,220.44 534.34,222.06 535.12,223.81 535.90,226.03 535.90,208.40" fill="#c2c2c2" stroke="none"/>
<line x1="302.5" y1="208.40" x2="535.9" y2="208.40" stroke="#a8a8a8" stroke-width="0.6"/>
<rect x="302.5" y="21" width="233.40" height="110.70" fill="none" stroke="#1a1a1a" stroke-width="1.1"/>
<rect x="302.5" y="131.7" width="233.40" height="44.40" fill="none" stroke="#1a1a1a" stroke-width="1.1"/>
<rect x="302.5" y="176.1" width="233.40" height="66.10" fill="none" stroke="#1a1a1a" stroke-width="1.1"/>
<line x1="299.5" y1="125.00" x2="302.5" y2="125.00" stroke="#333" stroke-width="0.9"/>
<text x="297.9" y="127.20" text-anchor="end" font-size="6.6" fill="#383838" stroke="#383838" stroke-width="0.22">0.0</text>
<line x1="299.5" y1="93.04" x2="302.5" y2="93.04" stroke="#333" stroke-width="0.9"/>
<text x="297.9" y="95.24" text-anchor="end" font-size="6.6" fill="#383838" stroke="#383838" stroke-width="0.22">0.2</text>
<line x1="299.5" y1="61.08" x2="302.5" y2="61.08" stroke="#333" stroke-width="0.9"/>
<text x="297.9" y="63.28" text-anchor="end" font-size="6.6" fill="#383838" stroke="#383838" stroke-width="0.22">0.4</text>
<line x1="299.5" y1="29.12" x2="302.5" y2="29.12" stroke="#333" stroke-width="0.9"/>
<text x="297.9" y="31.32" text-anchor="end" font-size="6.6" fill="#383838" stroke="#383838" stroke-width="0.22">0.6</text>
<line x1="299.5" y1="191.20" x2="302.5" y2="191.20" stroke="#333" stroke-width="0.9"/>
<text x="297.9" y="193.40" text-anchor="end" font-size="6.6" fill="#383838" stroke="#383838" stroke-width="0.22">2</text>
<line x1="299.5" y1="208.40" x2="302.5" y2="208.40" stroke="#333" stroke-width="0.9"/>
<text x="297.9" y="210.60" text-anchor="end" font-size="6.6" fill="#383838" stroke="#383838" stroke-width="0.22">0</text>
<line x1="299.5" y1="225.60" x2="302.5" y2="225.60" stroke="#333" stroke-width="0.9"/>
<text x="297.9" y="227.80" text-anchor="end" font-size="6.6" fill="#383838" stroke="#383838" stroke-width="0.22">−2</text>
<line x1="347.50" y1="242.2" x2="347.50" y2="244.7" stroke="#333" stroke-width="0.9"/>
<text x="347.50" y="252.10" text-anchor="middle" font-size="6.6" fill="#383838" stroke="#383838" stroke-width="0.22">10000</text>
<line x1="392.50" y1="242.2" x2="392.50" y2="244.7" stroke="#333" stroke-width="0.9"/>
<text x="392.50" y="252.10" text-anchor="middle" font-size="6.6" fill="#383838" stroke="#383838" stroke-width="0.22">20000</text>
<line x1="437.50" y1="242.2" x2="437.50" y2="244.7" stroke="#333" stroke-width="0.9"/>
<text x="437.50" y="252.10" text-anchor="middle" font-size="6.6" fill="#383838" stroke="#383838" stroke-width="0.22">30000</text>
<line x1="482.50" y1="242.2" x2="482.50" y2="244.7" stroke="#333" stroke-width="0.9"/>
<text x="482.50" y="252.10" text-anchor="middle" font-size="6.6" fill="#383838" stroke="#383838" stroke-width="0.22">40000</text>
<line x1="527.50" y1="242.2" x2="527.50" y2="244.7" stroke="#333" stroke-width="0.9"/>
<text x="527.50" y="252.10" text-anchor="middle" font-size="6.6" fill="#383838" stroke="#383838" stroke-width="0.22">50000</text>
<text x="419.20" y="261.40" text-anchor="middle" font-size="7.5" fill="#1a1a1a" stroke="#1a1a1a" stroke-width="0.22">Rank in Ordered Dataset</text>
<text transform="translate(284.30,76.35) rotate(-90)" text-anchor="middle" font-size="7.5" fill="#1a1a1a" stroke="#1a1a1a" stroke-width="0.22">Enrichment Score</text>
<text transform="translate(284.30,209.15) rotate(-90)" text-anchor="middle" font-size="7.5" fill="#1a1a1a" stroke="#1a1a1a" stroke-width="0.22">Ranked metric</text>
<text x="487.10" y="30.40" font-size="6.62" fill="#1a1a1a" stroke="#1a1a1a" stroke-width="0.22">NES = 2.582</text>
<text x="487.10" y="39.60" font-size="6.62" fill="#1a1a1a" stroke="#1a1a1a" stroke-width="0.22">p.adj = 0.015</text>
<text x="487.10" y="48.80" font-size="6.62" fill="#1a1a1a" stroke="#1a1a1a" stroke-width="0.22">FDR = 0.009</text>
<text x="283.70" y="18.40" font-family='"Liberation Serif", serif' font-size="17" fill="#000" stroke="#000" stroke-width="0.22">B</text>
<clipPath id="clipB"><rect x="300.9" y="1.1999999999999993" width="239.5" height="20"/></clipPath>
<text x="302.90" y="13.20" font-size="9.23" fill="#000" stroke="#000" stroke-width="0.22" clip-path="url(#clipB)">REACTOME_REGULATION_OF_EXPRESSION_OF_SLIT</text>
<line x1="583.2" y1="127.50" x2="815.8" y2="127.50" stroke="#efefef" stroke-width="0.8"/>
<line x1="583.2" y1="113.62" x2="815.8" y2="113.62" stroke="#efefef" stroke-width="0.8"/>
<line x1="583.2" y1="99.74" x2="815.8" y2="99.74" stroke="#efefef" stroke-width="0.8"/>
<line x1="583.2" y1="85.86" x2="815.8" y2="85.86" stroke="#efefef" stroke-width="0.8"/>
<line x1="583.2" y1="71.98" x2="815.8" y2="71.98" stroke="#efefef" stroke-width="0.8"/>
<line x1="583.2" y1="58.10" x2="815.8" y2="58.10" stroke="#efefef" stroke-width="0.8"/>
<line x1="583.2" y1="44.22" x2="815.8" y2="44.22" stroke="#efefef" stroke-width="0.8"/>
<line x1="583.2" y1="30.34" x2="815.8" y2="30.34" stroke="#efefef" stroke-width="0.8"/>
<line x1="605.00" y1="21.6" x2="605.00" y2="132.2" stroke="#efefef" stroke-width="0.8"/>
<line x1="605.00" y1="176.5" x2="605.00" y2="242.2" stroke="#efefef" stroke-width="0.8"/>
<line x1="605.00" y1="132.2" x2="605.00" y2="163.8" stroke="#f2f2f2" stroke-width="0.8"/>
<line x1="627.50" y1="21.6" x2="627.50" y2="132.2" stroke="#efefef" stroke-width="0.8"/>
<line x1="627.50" y1="176.5" x2="627.50" y2="242.2" stroke="#efefef" stroke-width="0.8"/>
<line x1="627.50" y1="132.2" x2="627.50" y2="163.8" stroke="#f2f2f2" stroke-width="0.8"/>
<line x1="650.00" y1="21.6" x2="650.00" y2="132.2" stroke="#efefef" stroke-width="0.8"/>
<line x1="650.00" y1="176.5" x2="650.00" y2="242.2" stroke="#efefef" stroke-width="0.8"/>
<line x1="650.00" y1="132.2" x2="650.00" y2="163.8" stroke="#f2f2f2" stroke-width="0.8"/>
<line x1="672.50" y1="21.6" x2="672.50" y2="132.2" stroke="#efefef" stroke-width="0.8"/>
<line x1="672.50" y1="176.5" x2="672.50" y2="242.2" stroke="#efefef" stroke-width="0.8"/>
<line x1="672.50" y1="132.2" x2="672.50" y2="163.8" stroke="#f2f2f2" stroke-width="0.8"/>
<line x1="695.00" y1="21.6" x2="695.00" y2="132.2" stroke="#efefef" stroke-width="0.8"/>
<line x1="695.00" y1="176.5" x2="695.00" y2="242.2" stroke="#efefef" stroke-width="0.8"/>
<line x1="695.00" y1="132.2" x2="695.00" y2="163.8" stroke="#f2f2f2" stroke-width="0.8"/>
<line x1="717.50" y1="21.6" x2="717.50" y2="132.2" stroke="#efefef" stroke-width="0.8"/>
<line x1="717.50" y1="176.5" x2="717.50" y2="242.2" stroke="#efefef" stroke-width="0.8"/>
<line x1="717.50" y1="132.2" x2="717.50" y2="163.8" stroke="#f2f2f2" stroke-width="0.8"/>
<line x1="740.00" y1="21.6" x2="740.00" y2="132.2" stroke="#efefef" stroke-width="0.8"/>
<line x1="740.00" y1="176.5" x2="740.00" y2="242.2" stroke="#efefef" stroke-width="0.8"/>
<line x1="740.00" y1="132.2" x2="740.00" y2="163.8" stroke="#f2f2f2" stroke-width="0.8"/>
<line x1="762.50" y1="21.6" x2="762.50" y2="132.2" stroke="#efefef" stroke-width="0.8"/>
<line x1="762.50" y1="176.5" x2="762.50" y2="242.2" stroke="#efefef" stroke-width="0.8"/>
<line x1="762.50" y1="132.2" x2="762.50" y2="163.8" stroke="#f2f2f2" stroke-width="0.8"/>
<line x1="785.00" y1="21.6" x2="785.00" y2="132.2" stroke="#efefef" stroke-width="0.8"/>
<line x1="785.00" y1="176.5" x2="785.00" y2="242.2" stroke="#efefef" stroke-width="0.8"/>
<line x1="785.00" y1="132.2" x2="785.00" y2="163.8" stroke="#f2f2f2" stroke-width="0.8"/>
<line x1="807.50" y1="21.6" x2="807.50" y2="132.2" stroke="#efefef" stroke-width="0.8"/>
<line x1="807.50" y1="176.5" x2="807.50" y2="242.2" stroke="#efefef" stroke-width="0.8"/>
<line x1="807.50" y1="132.2" x2="807.50" y2="163.8" stroke="#f2f2f2" stroke-width="0.8"/>
<line x1="583.2" y1="137.47" x2="815.8" y2="137.47" stroke="#f2f2f2" stroke-width="0.8"/>
<line x1="583.2" y1="142.73" x2="815.8" y2="142.73" stroke="#f2f2f2" stroke-width="0.8"/>
<line x1="583.2" y1="148.00" x2="815.8" y2="148.00" stroke="#f2f2f2" stroke-width="0.8"/>
<line x1="583.2" y1="153.27" x2="815.8" y2="153.27" stroke="#f2f2f2" stroke-width="0.8"/>
<line x1="583.2" y1="158.53" x2="815.8" y2="158.53" stroke="#f2f2f2" stroke-width="0.8"/>
<line x1="583.2" y1="234.65" x2="815.8" y2="234.65" stroke="#efefef" stroke-width="0.8"/>
<line x1="583.2" y1="226.00" x2="815.8" y2="226.00" stroke="#efefef" stroke-width="0.8"/>
<line x1="583.2" y1="217.35" x2="815.8" y2="217.35" stroke="#efefef" stroke-width="0.8"/>
<line x1="583.2" y1="208.70" x2="815.8" y2="208.70" stroke="#efefef" stroke-width="0.8"/>
<line x1="583.2" y1="200.05" x2="815.8" y2="200.05" stroke="#efefef" stroke-width="0.8"/>
<line x1="583.2" y1="191.40" x2="815.8" y2="191.40" stroke="#efefef" stroke-width="0.8"/>
<line x1="583.2" y1="182.75" x2="815.8" y2="182.75" stroke="#efefef" stroke-width="0.8"/>
<polyline points="583.50,127.50 584.10,124.90 587.20,118.70 590.30,112.50 593.40,98.10 596.50,89.90 598.50,77.60 600.60,66.30 602.60,62.20 604.70,55.00 607.80,46.70 610.80,43.70 613.90,38.50 617.00,30.30 620.10,27.20 627.30,27.80 635.50,28.20 643.80,31.30 655.00,36.50 663.20,39.50 675.60,47.80 685.90,52.90 696.10,58.10 716.70,69.40 737.30,81.70 757.90,94.10 778.40,106.40 790.80,113.60 799.00,117.70 815.50,127.00" fill="none" stroke="#80b06a" stroke-width="1.0" stroke-linejoin="round"/>
<rect x="585.90" y="132.2" width="1.90" height="31.60" fill="#000000"/>
<rect x="587.80" y="132.2" width="1.40" height="31.60" fill="#808080"/>
<rect x="589.20" y="132.2" width="0.50" height="31.60" fill="#3a3a3a"/>
<rect x="589.70" y="132.2" width="1.90" height="31.60" fill="#808080"/>
<rect x="591.60" y="132.2" width="9.00" height="31.60" fill="#000000"/>
<rect x="600.60" y="132.2" width="1.70" height="31.60" fill="#808080"/>
<rect x="602.30" y="132.2" width="4.30" height="31.60" fill="#000000"/>
<rect x="606.60" y="132.2" width="2.20" height="31.60" fill="#808080"/>
<rect x="608.80" y="132.2" width="10.40" height="31.60" fill="#000000"/>
<rect x="619.20" y="132.2" width="1.90" height="31.60" fill="#3a3a3a"/>
<rect x="621.10" y="132.2" width="3.30" height="31.60" fill="#808080"/>
<rect x="624.40" y="132.2" width="0.80" height="31.60" fill="#3a3a3a"/>
<rect x="626.80" y="132.2" width="2.20" height="31.60" fill="#3a3a3a"/>
<rect x="630.90" y="132.2" width="1.10" height="31.60" fill="#3a3a3a"/>
<rect x="633.60" y="132.2" width="3.00" height="31.60" fill="#3a3a3a"/>
<rect x="639.90" y="132.2" width="1.90" height="31.60" fill="#000000"/>
<rect x="643.50" y="132.2" width="1.60" height="31.60" fill="#000000"/>
<rect x="653.80" y="132.2" width="1.70" height="31.60" fill="#000000"/>
<rect x="660.90" y="132.2" width="1.70" height="31.60" fill="#000000"/>
<rect x="685.10" y="132.2" width="2.40" height="31.60" fill="#000000"/>
<rect x="691.00" y="132.2" width="1.60" height="31.60" fill="#3a3a3a"/>
<rect x="696.90" y="132.2" width="1.60" height="31.60" fill="#000000"/>
<rect x="707.20" y="132.2" width="1.60" height="31.60" fill="#3a3a3a"/>
<rect x="715.90" y="132.2" width="1.50" height="31.60" fill="#808080"/>
<rect x="723.00" y="132.2" width="2.70" height="31.60" fill="#000000"/>
<rect x="726.90" y="132.2" width="1.20" height="31.60" fill="#000000"/>
<rect x="740.30" y="132.2" width="1.60" height="31.60" fill="#3a3a3a"/>
<rect x="790.40" y="132.2" width="1.10" height="31.60" fill="#000000"/>
<rect x="583.20" y="163.8" width="25.00" height="12.70" fill="#a3151b"/>
<rect x="607.60" y="163.8" width="129.50" height="12.70" fill="#dc2f28"/>
<rect x="736.50" y="163.8" width="37.50" height="12.70" fill="#f26c4c"/>
<rect x="773.40" y="163.8" width="9.50" height="12.70" fill="#f7ae93"/>
<rect x="782.30" y="163.8" width="8.70" height="12.70" fill="#fce3d8"/>
<rect x="790.40" y="163.8" width="5.80" height="12.70" fill="#eef1fb"/>
<rect x="795.60" y="163.8" width="6.50" height="12.70" fill="#c0d9e8"/>
<rect x="801.50" y="163.8" width="7.30" height="12.70" fill="#72afd8"/>
<rect x="808.20" y="163.8" width="8.20" height="12.70" fill="#3683c0"/>
<rect x="585.90" y="163.8" width="1.90" height="12.70" fill="#000" opacity="0.10"/>
<rect x="587.80" y="163.8" width="1.40" height="12.70" fill="#000" opacity="0.10"/>
<rect x="589.20" y="163.8" width="0.50" height="12.70" fill="#000" opacity="0.10"/>
<rect x="589.70" y="163.8" width="1.90" height="12.70" fill="#000" opacity="0.10"/>
<rect x="591.60" y="163.8" width="9.00" height="12.70" fill="#000" opacity="0.10"/>
<rect x="600.60" y="163.8" width="1.70" height="12.70" fill="#000" opacity="0.10"/>
<rect x="602.30" y="163.8" width="4.30" height="12.70" fill="#000" opacity="0.10"/>
<rect x="606.60" y="163.8" width="2.20" height="12.70" fill="#000" opacity="0.10"/>
<rect x="608.80" y="163.8" width="10.40" height="12.70" fill="#000" opacity="0.10"/>
<rect x="619.20" y="163.8" width="1.90" height="12.70" fill="#000" opacity="0.10"/>
<rect x="621.10" y="163.8" width="3.30" height="12.70" fill="#000" opacity="0.10"/>
<rect x="624.40" y="163.8" width="0.80" height="12.70" fill="#000" opacity="0.10"/>
<rect x="626.80" y="163.8" width="2.20" height="12.70" fill="#000" opacity="0.10"/>
<rect x="630.90" y="163.8" width="1.10" height="12.70" fill="#000" opacity="0.10"/>
<rect x="633.60" y="163.8" width="3.00" height="12.70" fill="#000" opacity="0.10"/>
<rect x="639.90" y="163.8" width="1.90" height="12.70" fill="#000" opacity="0.10"/>
<rect x="643.50" y="163.8" width="1.60" height="12.70" fill="#000" opacity="0.10"/>
<rect x="653.80" y="163.8" width="1.70" height="12.70" fill="#000" opacity="0.10"/>
<rect x="660.90" y="163.8" width="1.70" height="12.70" fill="#000" opacity="0.10"/>
<rect x="685.10" y="163.8" width="2.40" height="12.70" fill="#000" opacity="0.10"/>
<rect x="691.00" y="163.8" width="1.60" height="12.70" fill="#000" opacity="0.10"/>
<rect x="696.90" y="163.8" width="1.60" height="12.70" fill="#000" opacity="0.10"/>
<rect x="707.20" y="163.8" width="1.60" height="12.70" fill="#000" opacity="0.10"/>
<rect x="715.90" y="163.8" width="1.50" height="12.70" fill="#000" opacity="0.10"/>
<rect x="723.00" y="163.8" width="2.70" height="12.70" fill="#000" opacity="0.10"/>
<rect x="726.90" y="163.8" width="1.20" height="12.70" fill="#000" opacity="0.10"/>
<rect x="740.30" y="163.8" width="1.60" height="12.70" fill="#000" opacity="0.10"/>
<rect x="790.40" y="163.8" width="1.10" height="12.70" fill="#000" opacity="0.10"/>
<polygon points="583.20,208.70 583.20,194.69 583.98,196.56 584.75,198.00 585.53,198.78 586.30,199.49 587.08,200.12 587.85,200.45 588.63,200.79 589.40,201.13 590.18,201.39 590.95,201.62 591.73,201.84 592.50,202.06 593.28,202.26 594.05,202.46 594.83,202.66 595.61,202.86 596.38,203.05 597.16,203.25 597.93,203.38 598.71,203.51 599.48,203.63 600.26,203.76 601.03,203.89 601.81,203.99 602.58,204.07 603.36,204.15 604.13,204.22 604.91,204.30 605.68,204.38 606.46,204.46 607.24,204.53 608.01,204.61 608.79,204.69 609.56,204.77 610.34,204.83 611.11,204.87 611.89,204.91 612.66,204.95 613.44,205.00 614.21,205.04 614.99,205.08 615.76,205.12 616.54,205.16 617.31,205.21 618.09,205.25 618.87,205.29 619.64,205.33 620.42,205.38 621.19,205.42 621.97,205.46 622.74,205.51 623.52,205.56 624.29,205.60 625.07,205.65 625.84,205.70 626.62,205.74 627.39,205.79 628.17,205.84 628.94,205.89 629.72,205.93 630.50,205.97 631.27,206.00 632.05,206.04 632.82,206.07 633.60,206.11 634.37,206.14 635.15,206.18 635.92,206.21 636.70,206.25 637.47,206.28 638.25,206.32 639.02,206.35 639.80,206.39 640.57,206.42 641.35,206.46 642.13,206.49 642.90,206.53 643.68,206.56 644.45,206.59 645.23,206.63 646.00,206.66 646.78,206.70 647.55,206.73 648.33,206.76 649.10,206.80 649.88,206.83 650.65,206.87 651.43,206.90 652.20,206.94 652.98,206.97 653.76,206.99 654.53,207.01 655.31,207.04 656.08,207.06 656.86,207.08 657.63,207.10 658.41,207.12 659.18,207.14 659.96,207.17 660.73,207.19 661.51,207.21 662.28,207.23 663.06,207.25 663.83,207.28 664.61,207.30 665.39,207.32 666.16,207.34 666.94,207.36 667.71,207.39 668.49,207.40 669.26,207.42 670.04,207.43 670.81,207.44 671.59,207.45 672.36,207.46 673.14,207.47 673.91,207.49 674.69,207.50 675.46,207.51 676.24,207.52 677.02,207.53 677.79,207.55 678.57,207.56 679.34,207.57 680.12,207.58 680.89,207.59 681.67,207.60 682.44,207.62 683.22,207.63 683.99,207.64 684.77,207.65 685.54,207.66 686.32,207.67 687.09,207.68 687.87,207.69 688.65,207.70 689.42,207.71 690.20,207.71 690.97,207.72 691.75,207.73 692.52,207.74 693.30,207.75 694.07,207.76 694.85,207.77 695.62,207.78 696.40,207.78 697.17,207.79 697.95,207.80 698.72,207.81 699.50,207.82 700.28,207.83 701.05,207.84 701.83,207.85 702.60,207.87 703.38,207.88 704.15,207.90 704.93,207.91 705.70,207.93 706.48,207.95 707.25,207.96 708.03,207.98 708.80,207.99 709.58,208.01 710.35,208.02 711.13,208.04 711.91,208.05 712.68,208.07 713.46,208.08 714.23,208.10 715.01,208.11 715.78,208.13 716.56,208.14 717.33,208.16 718.11,208.18 718.88,208.19 719.66,208.21 720.43,208.22 721.21,208.24 721.98,208.25 722.76,208.27 723.54,208.28 724.31,208.30 725.09,208.32 725.86,208.33 726.64,208.35 727.41,208.37 728.19,208.38 728.96,208.40 729.74,208.42 730.51,208.44 731.29,208.45 732.06,208.47 732.84,208.49 733.61,208.50 734.39,208.52 735.17,208.54 735.94,208.55 736.72,208.57 737.49,208.59 738.27,208.60 739.04,208.62 739.82,208.64 740.59,208.65 741.37,208.67 742.14,208.69 742.92,208.71 743.69,208.74 744.47,208.78 745.24,208.82 746.02,208.85 746.80,208.89 747.57,208.92 748.35,208.96 749.12,209.00 749.90,209.03 750.67,209.07 751.45,209.10 752.22,209.14 753.00,209.18 753.77,209.21 754.55,209.25 755.32,209.28 756.10,209.32 756.87,209.36 757.65,209.39 758.43,209.44 759.20,209.49 759.98,209.55 760.75,209.60 761.53,209.65 762.30,209.70 763.08,209.75 763.85,209.80 764.63,209.85 765.40,209.90 766.18,209.95 766.95,210.01 767.73,210.06 768.50,210.11 769.28,210.16 770.06,210.21 770.83,210.26 771.61,210.31 772.38,210.37 773.16,210.45 773.93,210.53 774.71,210.61 775.48,210.69 776.26,210.77 777.03,210.85 777.81,210.93 778.58,211.00 779.36,211.08 780.13,211.18 780.91,211.29 781.69,211.40 782.46,211.50 783.24,211.61 784.01,211.72 784.79,211.83 785.56,211.94 786.34,212.05 787.11,212.16 787.89,212.26 788.66,212.36 789.44,212.46 790.21,212.56 790.99,212.67 791.76,212.77 792.54,212.87 793.32,212.97 794.09,213.10 794.87,213.24 795.64,213.39 796.42,213.53 797.19,213.67 797.97,213.82 798.74,213.96 799.52,214.11 800.29,214.25 801.07,214.42 801.84,214.60 802.62,214.79 803.39,214.98 804.17,215.17 804.95,215.35 805.72,215.59 806.50,215.88 807.27,216.17 808.05,216.48 808.82,216.92 809.60,217.35 810.37,217.78 811.15,218.21 811.92,219.08 812.70,219.94 813.47,220.81 814.25,222.44 815.02,224.20 815.80,226.43 815.80,208.70" fill="#c2c2c2" stroke="none"/>
<line x1="583.2" y1="208.70" x2="815.8" y2="208.70" stroke="#a8a8a8" stroke-width="0.6"/>
<rect x="583.2" y="21.6" width="232.60" height="110.60" fill="none" stroke="#1a1a1a" stroke-width="1.1"/>
<rect x="583.2" y="132.2" width="232.60" height="44.30" fill="none" stroke="#1a1a1a" stroke-width="1.1"/>
<rect x="583.2" y="176.5" width="232.60" height="65.70" fill="none" stroke="#1a1a1a" stroke-width="1.1"/>
<line x1="580.2" y1="127.50" x2="583.2" y2="127.50" stroke="#333" stroke-width="0.9"/>
<text x="578.6" y="129.70" text-anchor="end" font-size="6.6" fill="#383838" stroke="#383838" stroke-width="0.22">0.0</text>
<line x1="580.2" y1="99.74" x2="583.2" y2="99.74" stroke="#333" stroke-width="0.9"/>
<text x="578.6" y="101.94" text-anchor="end" font-size="6.6" fill="#383838" stroke="#383838" stroke-width="0.22">0.2</text>
<line x1="580.2" y1="71.98" x2="583.2" y2="71.98" stroke="#333" stroke-width="0.9"/>
<text x="578.6" y="74.18" text-anchor="end" font-size="6.6" fill="#383838" stroke="#383838" stroke-width="0.22">0.4</text>
<line x1="580.2" y1="44.22" x2="583.2" y2="44.22" stroke="#333" stroke-width="0.9"/>
<text x="578.6" y="46.42" text-anchor="end" font-size="6.6" fill="#383838" stroke="#383838" stroke-width="0.22">0.6</text>
<line x1="580.2" y1="191.40" x2="583.2" y2="191.40" stroke="#333" stroke-width="0.9"/>
<text x="578.6" y="193.60" text-anchor="end" font-size="6.6" fill="#383838" stroke="#383838" stroke-width="0.22">2</text>
<line x1="580.2" y1="208.70" x2="583.2" y2="208.70" stroke="#333" stroke-width="0.9"/>
<text x="578.6" y="210.90" text-anchor="end" font-size="6.6" fill="#383838" stroke="#383838" stroke-width="0.22">0</text>
<line x1="580.2" y1="226.00" x2="583.2" y2="226.00" stroke="#333" stroke-width="0.9"/>
<text x="578.6" y="228.20" text-anchor="end" font-size="6.6" fill="#383838" stroke="#383838" stroke-width="0.22">−2</text>
<line x1="627.50" y1="242.2" x2="627.50" y2="244.7" stroke="#333" stroke-width="0.9"/>
<text x="627.50" y="252.10" text-anchor="middle" font-size="6.6" fill="#383838" stroke="#383838" stroke-width="0.22">10000</text>
<line x1="672.50" y1="242.2" x2="672.50" y2="244.7" stroke="#333" stroke-width="0.9"/>
<text x="672.50" y="252.10" text-anchor="middle" font-size="6.6" fill="#383838" stroke="#383838" stroke-width="0.22">20000</text>
<line x1="717.50" y1="242.2" x2="717.50" y2="244.7" stroke="#333" stroke-width="0.9"/>
<text x="717.50" y="252.10" text-anchor="middle" font-size="6.6" fill="#383838" stroke="#383838" stroke-width="0.22">30000</text>
<line x1="762.50" y1="242.2" x2="762.50" y2="244.7" stroke="#333" stroke-width="0.9"/>
<text x="762.50" y="252.10" text-anchor="middle" font-size="6.6" fill="#383838" stroke="#383838" stroke-width="0.22">40000</text>
<line x1="807.50" y1="242.2" x2="807.50" y2="244.7" stroke="#333" stroke-width="0.9"/>
<text x="807.50" y="252.10" text-anchor="middle" font-size="6.6" fill="#383838" stroke="#383838" stroke-width="0.22">50000</text>
<text x="699.50" y="261.40" text-anchor="middle" font-size="7.5" fill="#1a1a1a" stroke="#1a1a1a" stroke-width="0.22">Rank in Ordered Dataset</text>
<text transform="translate(565.00,76.90) rotate(-90)" text-anchor="middle" font-size="7.5" fill="#1a1a1a" stroke="#1a1a1a" stroke-width="0.22">Enrichment Score</text>
<text transform="translate(565.00,209.35) rotate(-90)" text-anchor="middle" font-size="7.5" fill="#1a1a1a" stroke="#1a1a1a" stroke-width="0.22">Ranked metric</text>
<text x="766.10" y="31.00" font-size="6.62" fill="#1a1a1a" stroke="#1a1a1a" stroke-width="0.22">NES = 2.853</text>
<text x="766.10" y="40.40" font-size="6.62" fill="#1a1a1a" stroke="#1a1a1a" stroke-width="0.22">p.adj = 0.015</text>
<text x="766.10" y="49.60" font-size="6.62" fill="#1a1a1a" stroke="#1a1a1a" stroke-width="0.22">FDR = 0.009</text>
<text x="564.10" y="17.30" font-family='"Liberation Serif", serif' font-size="16.5" fill="#000" stroke="#000" stroke-width="0.22">C</text>
<clipPath id="clipC"><rect x="580.2" y="1.9000000000000004" width="240.79999999999995" height="20"/></clipPath>
<text x="582.20" y="13.90" font-size="9.23" fill="#000" stroke="#000" stroke-width="0.22" clip-path="url(#clipC)">REACTOME_SRP_DEPENDENT_COTRANSLATIONAL_PROTEIN</text>
<line x1="28.8" y1="411.90" x2="263.5" y2="411.90" stroke="#efefef" stroke-width="0.8"/>
<line x1="28.8" y1="397.73" x2="263.5" y2="397.73" stroke="#efefef" stroke-width="0.8"/>
<line x1="28.8" y1="383.56" x2="263.5" y2="383.56" stroke="#efefef" stroke-width="0.8"/>
<line x1="28.8" y1="369.39" x2="263.5" y2="369.39" stroke="#efefef" stroke-width="0.8"/>
<line x1="28.8" y1="355.22" x2="263.5" y2="355.22" stroke="#efefef" stroke-width="0.8"/>
<line x1="28.8" y1="341.05" x2="263.5" y2="341.05" stroke="#efefef" stroke-width="0.8"/>
<line x1="28.8" y1="326.88" x2="263.5" y2="326.88" stroke="#efefef" stroke-width="0.8"/>
<line x1="28.8" y1="312.71" x2="263.5" y2="312.71" stroke="#efefef" stroke-width="0.8"/>
<line x1="51.45" y1="306.7" x2="51.45" y2="418.4" stroke="#efefef" stroke-width="0.8"/>
<line x1="51.45" y1="463.8" x2="51.45" y2="529.4" stroke="#efefef" stroke-width="0.8"/>
<line x1="51.45" y1="418.4" x2="51.45" y2="450.3" stroke="#f2f2f2" stroke-width="0.8"/>
<line x1="74.20" y1="306.7" x2="74.20" y2="418.4" stroke="#efefef" stroke-width="0.8"/>
<line x1="74.20" y1="463.8" x2="74.20" y2="529.4" stroke="#efefef" stroke-width="0.8"/>
<line x1="74.20" y1="418.4" x2="74.20" y2="450.3" stroke="#f2f2f2" stroke-width="0.8"/>
<line x1="96.95" y1="306.7" x2="96.95" y2="418.4" stroke="#efefef" stroke-width="0.8"/>
<line x1="96.95" y1="463.8" x2="96.95" y2="529.4" stroke="#efefef" stroke-width="0.8"/>
<line x1="96.95" y1="418.4" x2="96.95" y2="450.3" stroke="#f2f2f2" stroke-width="0.8"/>
<line x1="119.70" y1="306.7" x2="119.70" y2="418.4" stroke="#efefef" stroke-width="0.8"/>
<line x1="119.70" y1="463.8" x2="119.70" y2="529.4" stroke="#efefef" stroke-width="0.8"/>
<line x1="119.70" y1="418.4" x2="119.70" y2="450.3" stroke="#f2f2f2" stroke-width="0.8"/>
<line x1="142.45" y1="306.7" x2="142.45" y2="418.4" stroke="#efefef" stroke-width="0.8"/>
<line x1="142.45" y1="463.8" x2="142.45" y2="529.4" stroke="#efefef" stroke-width="0.8"/>
<line x1="142.45" y1="418.4" x2="142.45" y2="450.3" stroke="#f2f2f2" stroke-width="0.8"/>
<line x1="165.20" y1="306.7" x2="165.20" y2="418.4" stroke="#efefef" stroke-width="0.8"/>
<line x1="165.20" y1="463.8" x2="165.20" y2="529.4" stroke="#efefef" stroke-width="0.8"/>
<line x1="165.20" y1="418.4" x2="165.20" y2="450.3" stroke="#f2f2f2" stroke-width="0.8"/>
<line x1="187.95" y1="306.7" x2="187.95" y2="418.4" stroke="#efefef" stroke-width="0.8"/>
<line x1="187.95" y1="463.8" x2="187.95" y2="529.4" stroke="#efefef" stroke-width="0.8"/>
<line x1="187.95" y1="418.4" x2="187.95" y2="450.3" stroke="#f2f2f2" stroke-width="0.8"/>
<line x1="210.70" y1="306.7" x2="210.70" y2="418.4" stroke="#efefef" stroke-width="0.8"/>
<line x1="210.70" y1="463.8" x2="210.70" y2="529.4" stroke="#efefef" stroke-width="0.8"/>
<line x1="210.70" y1="418.4" x2="210.70" y2="450.3" stroke="#f2f2f2" stroke-width="0.8"/>
<line x1="233.45" y1="306.7" x2="233.45" y2="418.4" stroke="#efefef" stroke-width="0.8"/>
<line x1="233.45" y1="463.8" x2="233.45" y2="529.4" stroke="#efefef" stroke-width="0.8"/>
<line x1="233.45" y1="418.4" x2="233.45" y2="450.3" stroke="#f2f2f2" stroke-width="0.8"/>
<line x1="256.20" y1="306.7" x2="256.20" y2="418.4" stroke="#efefef" stroke-width="0.8"/>
<line x1="256.20" y1="463.8" x2="256.20" y2="529.4" stroke="#efefef" stroke-width="0.8"/>
<line x1="256.20" y1="418.4" x2="256.20" y2="450.3" stroke="#f2f2f2" stroke-width="0.8"/>
<line x1="28.8" y1="423.72" x2="263.5" y2="423.72" stroke="#f2f2f2" stroke-width="0.8"/>
<line x1="28.8" y1="429.03" x2="263.5" y2="429.03" stroke="#f2f2f2" stroke-width="0.8"/>
<line x1="28.8" y1="434.35" x2="263.5" y2="434.35" stroke="#f2f2f2" stroke-width="0.8"/>
<line x1="28.8" y1="439.67" x2="263.5" y2="439.67" stroke="#f2f2f2" stroke-width="0.8"/>
<line x1="28.8" y1="444.98" x2="263.5" y2="444.98" stroke="#f2f2f2" stroke-width="0.8"/>
<line x1="28.8" y1="521.64" x2="263.5" y2="521.64" stroke="#efefef" stroke-width="0.8"/>
<line x1="28.8" y1="512.96" x2="263.5" y2="512.96" stroke="#efefef" stroke-width="0.8"/>
<line x1="28.8" y1="504.28" x2="263.5" y2="504.28" stroke="#efefef" stroke-width="0.8"/>
<line x1="28.8" y1="495.60" x2="263.5" y2="495.60" stroke="#efefef" stroke-width="0.8"/>
<line x1="28.8" y1="486.92" x2="263.5" y2="486.92" stroke="#efefef" stroke-width="0.8"/>
<line x1="28.8" y1="478.24" x2="263.5" y2="478.24" stroke="#efefef" stroke-width="0.8"/>
<line x1="28.8" y1="469.56" x2="263.5" y2="469.56" stroke="#efefef" stroke-width="0.8"/>
<polyline points="29.00,412.00 31.20,413.00 33.20,407.90 35.30,402.70 38.40,394.40 40.50,384.00 42.60,375.70 44.70,363.20 46.70,352.80 48.80,349.70 50.90,339.30 54.00,332.00 57.10,328.90 60.20,322.70 63.40,315.40 66.50,311.90 70.60,313.30 73.80,312.30 81.00,315.40 89.30,319.50 97.70,322.70 100.00,323.70 107.00,327.90 120.80,335.10 141.50,346.50 162.30,359.00 183.00,371.40 207.90,384.90 224.50,392.20 245.30,401.50 263.20,411.50" fill="none" stroke="#80b06a" stroke-width="1.0" stroke-linejoin="round"/>
<rect x="31.60" y="418.4" width="0.90" height="31.90" fill="#3a3a3a"/>
<rect x="32.50" y="418.4" width="2.10" height="31.90" fill="#808080"/>
<rect x="34.60" y="418.4" width="1.10" height="31.90" fill="#3a3a3a"/>
<rect x="37.60" y="418.4" width="9.30" height="31.90" fill="#000000"/>
<rect x="46.90" y="418.4" width="2.20" height="31.90" fill="#808080"/>
<rect x="49.10" y="418.4" width="4.60" height="31.90" fill="#000000"/>
<rect x="53.70" y="418.4" width="2.50" height="31.90" fill="#808080"/>
<rect x="56.20" y="418.4" width="9.00" height="31.90" fill="#000000"/>
<rect x="68.50" y="418.4" width="3.30" height="31.90" fill="#3a3a3a"/>
<rect x="72.90" y="418.4" width="1.80" height="31.90" fill="#000000"/>
<rect x="79.80" y="418.4" width="1.50" height="31.90" fill="#808080"/>
<rect x="86.70" y="418.4" width="1.80" height="31.90" fill="#000000"/>
<rect x="92.50" y="418.4" width="1.90" height="31.90" fill="#000000"/>
<rect x="96.50" y="418.4" width="1.50" height="31.90" fill="#000000"/>
<rect x="108.90" y="418.4" width="1.50" height="31.90" fill="#3a3a3a"/>
<rect x="118.70" y="418.4" width="1.80" height="31.90" fill="#000000"/>
<rect x="138.30" y="418.4" width="1.90" height="31.90" fill="#000000"/>
<rect x="155.10" y="418.4" width="1.00" height="31.90" fill="#3a3a3a"/>
<rect x="162.00" y="418.4" width="1.00" height="31.90" fill="#000000"/>
<rect x="188.90" y="418.4" width="2.00" height="31.90" fill="#808080"/>
<rect x="193.30" y="418.4" width="1.90" height="31.90" fill="#000000"/>
<rect x="200.00" y="418.4" width="1.90" height="31.90" fill="#3a3a3a"/>
<rect x="204.70" y="418.4" width="2.40" height="31.90" fill="#000000"/>
<rect x="209.00" y="418.4" width="2.40" height="31.90" fill="#000000"/>
<rect x="213.00" y="418.4" width="1.60" height="31.90" fill="#000000"/>
<rect x="218.50" y="418.4" width="2.00" height="31.90" fill="#000000"/>
<rect x="224.00" y="418.4" width="2.00" height="31.90" fill="#808080"/>
<rect x="233.90" y="418.4" width="1.90" height="31.90" fill="#3a3a3a"/>
<rect x="237.80" y="418.4" width="2.40" height="31.90" fill="#3a3a3a"/>
<rect x="242.90" y="418.4" width="2.00" height="31.90" fill="#3a3a3a"/>
<rect x="28.80" y="450.3" width="19.20" height="13.50" fill="#a3151b"/>
<rect x="47.40" y="450.3" width="40.60" height="13.50" fill="#dc2f28"/>
<rect x="87.40" y="450.3" width="115.90" height="13.50" fill="#f26c4c"/>
<rect x="202.70" y="450.3" width="27.20" height="13.50" fill="#f7ae93"/>
<rect x="229.30" y="450.3" width="8.00" height="13.50" fill="#fce3d8"/>
<rect x="236.70" y="450.3" width="4.90" height="13.50" fill="#eef1fb"/>
<rect x="241.00" y="450.3" width="6.60" height="13.50" fill="#c0d9e8"/>
<rect x="247.00" y="450.3" width="8.00" height="13.50" fill="#72afd8"/>
<rect x="254.40" y="450.3" width="9.70" height="13.50" fill="#3683c0"/>
<rect x="31.60" y="450.3" width="0.90" height="13.50" fill="#000" opacity="0.10"/>
<rect x="32.50" y="450.3" width="2.10" height="13.50" fill="#000" opacity="0.10"/>
<rect x="34.60" y="450.3" width="1.10" height="13.50" fill="#000" opacity="0.10"/>
<rect x="37.60" y="450.3" width="9.30" height="13.50" fill="#000" opacity="0.10"/>
<rect x="46.90" y="450.3" width="2.20" height="13.50" fill="#000" opacity="0.10"/>
<rect x="49.10" y="450.3" width="4.60" height="13.50" fill="#000" opacity="0.10"/>
<rect x="53.70" y="450.3" width="2.50" height="13.50" fill="#000" opacity="0.10"/>
<rect x="56.20" y="450.3" width="9.00" height="13.50" fill="#000" opacity="0.10"/>
<rect x="68.50" y="450.3" width="3.30" height="13.50" fill="#000" opacity="0.10"/>
<rect x="72.90" y="450.3" width="1.80" height="13.50" fill="#000" opacity="0.10"/>
<rect x="79.80" y="450.3" width="1.50" height="13.50" fill="#000" opacity="0.10"/>
<rect x="86.70" y="450.3" width="1.80" height="13.50" fill="#000" opacity="0.10"/>
<rect x="92.50" y="450.3" width="1.90" height="13.50" fill="#000" opacity="0.10"/>
<rect x="96.50" y="450.3" width="1.50" height="13.50" fill="#000" opacity="0.10"/>
<rect x="108.90" y="450.3" width="1.50" height="13.50" fill="#000" opacity="0.10"/>
<rect x="118.70" y="450.3" width="1.80" height="13.50" fill="#000" opacity="0.10"/>
<rect x="138.30" y="450.3" width="1.90" height="13.50" fill="#000" opacity="0.10"/>
<rect x="155.10" y="450.3" width="1.00" height="13.50" fill="#000" opacity="0.10"/>
<rect x="162.00" y="450.3" width="1.00" height="13.50" fill="#000" opacity="0.10"/>
<rect x="188.90" y="450.3" width="2.00" height="13.50" fill="#000" opacity="0.10"/>
<rect x="193.30" y="450.3" width="1.90" height="13.50" fill="#000" opacity="0.10"/>
<rect x="200.00" y="450.3" width="1.90" height="13.50" fill="#000" opacity="0.10"/>
<rect x="204.70" y="450.3" width="2.40" height="13.50" fill="#000" opacity="0.10"/>
<rect x="209.00" y="450.3" width="2.40" height="13.50" fill="#000" opacity="0.10"/>
<rect x="213.00" y="450.3" width="1.60" height="13.50" fill="#000" opacity="0.10"/>
<rect x="218.50" y="450.3" width="2.00" height="13.50" fill="#000" opacity="0.10"/>
<rect x="224.00" y="450.3" width="2.00" height="13.50" fill="#000" opacity="0.10"/>
<rect x="233.90" y="450.3" width="1.90" height="13.50" fill="#000" opacity="0.10"/>
<rect x="237.80" y="450.3" width="2.40" height="13.50" fill="#000" opacity="0.10"/>
<rect x="242.90" y="450.3" width="2.00" height="13.50" fill="#000" opacity="0.10"/>
<polygon points="28.80,495.60 28.80,481.54 29.58,483.42 30.36,484.87 31.15,485.65 31.93,486.35 32.71,486.99 33.49,487.33 34.28,487.66 35.06,488.00 35.84,488.27 36.62,488.49 37.41,488.71 38.19,488.94 38.97,489.14 39.75,489.34 40.53,489.54 41.32,489.74 42.10,489.93 42.88,490.13 43.66,490.26 44.45,490.39 45.23,490.52 46.01,490.65 46.79,490.77 47.58,490.87 48.36,490.95 49.14,491.03 49.92,491.11 50.71,491.19 51.49,491.26 52.27,491.34 53.05,491.42 53.83,491.50 54.62,491.58 55.40,491.65 56.18,491.72 56.96,491.76 57.75,491.80 58.53,491.84 59.31,491.88 60.09,491.93 60.88,491.97 61.66,492.01 62.44,492.05 63.22,492.09 64.00,492.14 64.79,492.18 65.57,492.22 66.35,492.26 67.13,492.31 67.92,492.35 68.70,492.40 69.48,492.45 70.26,492.49 71.05,492.54 71.83,492.59 72.61,492.63 73.39,492.68 74.18,492.73 74.96,492.78 75.74,492.82 76.52,492.86 77.30,492.89 78.09,492.93 78.87,492.96 79.65,493.00 80.43,493.03 81.22,493.07 82.00,493.10 82.78,493.14 83.56,493.18 84.35,493.21 85.13,493.25 85.91,493.28 86.69,493.31 87.47,493.35 88.26,493.38 89.04,493.42 89.82,493.45 90.60,493.49 91.39,493.52 92.17,493.56 92.95,493.59 93.73,493.62 94.52,493.66 95.30,493.69 96.08,493.73 96.86,493.76 97.65,493.80 98.43,493.83 99.21,493.86 99.99,493.89 100.77,493.91 101.56,493.93 102.34,493.95 103.12,493.97 103.90,494.00 104.69,494.02 105.47,494.04 106.25,494.06 107.03,494.08 107.82,494.11 108.60,494.13 109.38,494.15 110.16,494.17 110.94,494.19 111.73,494.21 112.51,494.24 113.29,494.26 114.07,494.28 114.86,494.30 115.64,494.31 116.42,494.32 117.20,494.34 117.99,494.35 118.77,494.36 119.55,494.37 120.33,494.38 121.12,494.39 121.90,494.41 122.68,494.42 123.46,494.43 124.24,494.44 125.03,494.45 125.81,494.46 126.59,494.48 127.37,494.49 128.16,494.50 128.94,494.51 129.72,494.52 130.50,494.53 131.29,494.55 132.07,494.56 132.85,494.57 133.63,494.58 134.41,494.58 135.20,494.59 135.98,494.60 136.76,494.61 137.54,494.62 138.33,494.63 139.11,494.64 139.89,494.65 140.67,494.65 141.46,494.66 142.24,494.67 143.02,494.68 143.80,494.69 144.59,494.70 145.37,494.71 146.15,494.72 146.93,494.72 147.71,494.74 148.50,494.75 149.28,494.77 150.06,494.78 150.84,494.80 151.63,494.81 152.41,494.83 153.19,494.84 153.97,494.86 154.76,494.87 155.54,494.89 156.32,494.90 157.10,494.92 157.89,494.94 158.67,494.95 159.45,494.97 160.23,494.98 161.01,495.00 161.80,495.01 162.58,495.03 163.36,495.04 164.14,495.06 164.93,495.07 165.71,495.09 166.49,495.10 167.27,495.12 168.06,495.14 168.84,495.15 169.62,495.17 170.40,495.18 171.18,495.20 171.97,495.22 172.75,495.23 173.53,495.25 174.31,495.27 175.10,495.28 175.88,495.30 176.66,495.32 177.44,495.33 178.23,495.35 179.01,495.37 179.79,495.38 180.57,495.40 181.36,495.42 182.14,495.44 182.92,495.45 183.70,495.47 184.48,495.49 185.27,495.50 186.05,495.52 186.83,495.54 187.61,495.55 188.40,495.57 189.18,495.59 189.96,495.61 190.74,495.64 191.53,495.68 192.31,495.72 193.09,495.75 193.87,495.79 194.65,495.82 195.44,495.86 196.22,495.90 197.00,495.93 197.78,495.97 198.57,496.01 199.35,496.04 200.13,496.08 200.91,496.11 201.70,496.15 202.48,496.19 203.26,496.22 204.04,496.26 204.82,496.29 205.61,496.35 206.39,496.40 207.17,496.45 207.95,496.50 208.74,496.55 209.52,496.60 210.30,496.65 211.08,496.71 211.87,496.76 212.65,496.81 213.43,496.86 214.21,496.91 215.00,496.96 215.78,497.01 216.56,497.06 217.34,497.12 218.12,497.17 218.91,497.22 219.69,497.28 220.47,497.36 221.25,497.44 222.04,497.52 222.82,497.60 223.60,497.68 224.38,497.75 225.17,497.83 225.95,497.91 226.73,497.99 227.51,498.09 228.29,498.20 229.08,498.30 229.86,498.41 230.64,498.52 231.42,498.63 232.21,498.74 232.99,498.85 233.77,498.96 234.55,499.07 235.34,499.17 236.12,499.27 236.90,499.38 237.68,499.48 238.47,499.58 239.25,499.68 240.03,499.79 240.81,499.89 241.59,500.01 242.38,500.16 243.16,500.30 243.94,500.45 244.72,500.59 245.51,500.74 246.29,500.88 247.07,501.03 247.85,501.17 248.64,501.34 249.42,501.52 250.20,501.71 250.98,501.90 251.76,502.09 252.55,502.28 253.33,502.52 254.11,502.80 254.89,503.09 255.68,503.41 256.46,503.85 257.24,504.28 258.02,504.71 258.81,505.15 259.59,506.02 260.37,506.88 261.15,507.75 261.94,509.39 262.72,511.15 263.50,513.39 263.50,495.60" fill="#c2c2c2" stroke="none"/>
<line x1="28.8" y1="495.60" x2="263.5" y2="495.60" stroke="#a8a8a8" stroke-width="0.6"/>
<rect x="28.8" y="306.7" width="234.70" height="111.70" fill="none" stroke="#1a1a1a" stroke-width="1.1"/>
<rect x="28.8" y="418.4" width="234.70" height="45.40" fill="none" stroke="#1a1a1a" stroke-width="1.1"/>
<rect x="28.8" y="463.8" width="234.70" height="65.60" fill="none" stroke="#1a1a1a" stroke-width="1.1"/>
<line x1="25.8" y1="411.90" x2="28.8" y2="411.90" stroke="#333" stroke-width="0.9"/>
<text x="24.200000000000003" y="414.10" text-anchor="end" font-size="6.6" fill="#383838" stroke="#383838" stroke-width="0.22">0.0</text>
<line x1="25.8" y1="383.56" x2="28.8" y2="383.56" stroke="#333" stroke-width="0.9"/>
<text x="24.200000000000003" y="385.76" text-anchor="end" font-size="6.6" fill="#383838" stroke="#383838" stroke-width="0.22">0.2</text>
<line x1="25.8" y1="355.22" x2="28.8" y2="355.22" stroke="#333" stroke-width="0.9"/>
<text x="24.200000000000003" y="357.42" text-anchor="end" font-size="6.6" fill="#383838" stroke="#383838" stroke-width="0.22">0.4</text>
<line x1="25.8" y1="326.88" x2="28.8" y2="326.88" stroke="#333" stroke-width="0.9"/>
<text x="24.200000000000003" y="329.08" text-anchor="end" font-size="6.6" fill="#383838" stroke="#383838" stroke-width="0.22">0.6</text>
<line x1="25.8" y1="478.24" x2="28.8" y2="478.24" stroke="#333" stroke-width="0.9"/>
<text x="24.200000000000003" y="480.44" text-anchor="end" font-size="6.6" fill="#383838" stroke="#383838" stroke-width="0.22">2</text>
<line x1="25.8" y1="495.60" x2="28.8" y2="495.60" stroke="#333" stroke-width="0.9"/>
<text x="24.200000000000003" y="497.80" text-anchor="end" font-size="6.6" fill="#383838" stroke="#383838" stroke-width="0.22">0</text>
<line x1="25.8" y1="512.96" x2="28.8" y2="512.96" stroke="#333" stroke-width="0.9"/>
<text x="24.200000000000003" y="515.16" text-anchor="end" font-size="6.6" fill="#383838" stroke="#383838" stroke-width="0.22">−2</text>
<line x1="74.20" y1="529.4" x2="74.20" y2="531.9" stroke="#333" stroke-width="0.9"/>
<text x="74.20" y="539.90" text-anchor="middle" font-size="6.6" fill="#383838" stroke="#383838" stroke-width="0.22">10000</text>
<line x1="119.70" y1="529.4" x2="119.70" y2="531.9" stroke="#333" stroke-width="0.9"/>
<text x="119.70" y="539.90" text-anchor="middle" font-size="6.6" fill="#383838" stroke="#383838" stroke-width="0.22">20000</text>
<line x1="165.20" y1="529.4" x2="165.20" y2="531.9" stroke="#333" stroke-width="0.9"/>
<text x="165.20" y="539.90" text-anchor="middle" font-size="6.6" fill="#383838" stroke="#383838" stroke-width="0.22">30000</text>
<line x1="210.70" y1="529.4" x2="210.70" y2="531.9" stroke="#333" stroke-width="0.9"/>
<text x="210.70" y="539.90" text-anchor="middle" font-size="6.6" fill="#383838" stroke="#383838" stroke-width="0.22">40000</text>
<line x1="256.20" y1="529.4" x2="256.20" y2="531.9" stroke="#333" stroke-width="0.9"/>
<text x="256.20" y="539.90" text-anchor="middle" font-size="6.6" fill="#383838" stroke="#383838" stroke-width="0.22">50000</text>
<text x="146.15" y="549.10" text-anchor="middle" font-size="7.5" fill="#1a1a1a" stroke="#1a1a1a" stroke-width="0.22">Rank in Ordered Dataset</text>
<text transform="translate(10.60,362.55) rotate(-90)" text-anchor="middle" font-size="7.5" fill="#1a1a1a" stroke="#1a1a1a" stroke-width="0.22">Enrichment Score</text>
<text transform="translate(10.60,496.60) rotate(-90)" text-anchor="middle" font-size="7.5" fill="#1a1a1a" stroke="#1a1a1a" stroke-width="0.22">Ranked metric</text>
<text x="214.00" y="316.40" font-size="6.62" fill="#1a1a1a" stroke="#1a1a1a" stroke-width="0.22">NES = 2.795</text>
<text x="214.00" y="325.60" font-size="6.62" fill="#1a1a1a" stroke="#1a1a1a" stroke-width="0.22">p.adj = 0.015</text>
<text x="214.00" y="335.10" font-size="6.62" fill="#1a1a1a" stroke="#1a1a1a" stroke-width="0.22">FDR = 0.009</text>
<text x="10.10" y="303.90" font-family='"Liberation Serif", serif' font-size="17.2" fill="#000" stroke="#000" stroke-width="0.22">D</text>
<text x="28.60" y="299.40" font-size="9.3" fill="#000" stroke="#000" stroke-width="0.22">REACTOME_NONSENSE_MEDIATED_DECAY_NMD</text>
<line x1="302.2" y1="415.10" x2="535.1" y2="415.10" stroke="#efefef" stroke-width="0.8"/>
<line x1="302.2" y1="404.93" x2="535.1" y2="404.93" stroke="#efefef" stroke-width="0.8"/>
<line x1="302.2" y1="394.76" x2="535.1" y2="394.76" stroke="#efefef" stroke-width="0.8"/>
<line x1="302.2" y1="384.59" x2="535.1" y2="384.59" stroke="#efefef" stroke-width="0.8"/>
<line x1="302.2" y1="374.42" x2="535.1" y2="374.42" stroke="#efefef" stroke-width="0.8"/>
<line x1="302.2" y1="364.25" x2="535.1" y2="364.25" stroke="#efefef" stroke-width="0.8"/>
<line x1="302.2" y1="354.08" x2="535.1" y2="354.08" stroke="#efefef" stroke-width="0.8"/>
<line x1="302.2" y1="343.91" x2="535.1" y2="343.91" stroke="#efefef" stroke-width="0.8"/>
<line x1="302.2" y1="333.74" x2="535.1" y2="333.74" stroke="#efefef" stroke-width="0.8"/>
<line x1="302.2" y1="323.57" x2="535.1" y2="323.57" stroke="#efefef" stroke-width="0.8"/>
<line x1="302.2" y1="313.40" x2="535.1" y2="313.40" stroke="#efefef" stroke-width="0.8"/>
<line x1="324.25" y1="309" x2="324.25" y2="420" stroke="#efefef" stroke-width="0.8"/>
<line x1="324.25" y1="464.5" x2="324.25" y2="529.9" stroke="#efefef" stroke-width="0.8"/>
<line x1="324.25" y1="420" x2="324.25" y2="451" stroke="#f2f2f2" stroke-width="0.8"/>
<line x1="346.80" y1="309" x2="346.80" y2="420" stroke="#efefef" stroke-width="0.8"/>
<line x1="346.80" y1="464.5" x2="346.80" y2="529.9" stroke="#efefef" stroke-width="0.8"/>
<line x1="346.80" y1="420" x2="346.80" y2="451" stroke="#f2f2f2" stroke-width="0.8"/>
<line x1="369.35" y1="309" x2="369.35" y2="420" stroke="#efefef" stroke-width="0.8"/>
<line x1="369.35" y1="464.5" x2="369.35" y2="529.9" stroke="#efefef" stroke-width="0.8"/>
<line x1="369.35" y1="420" x2="369.35" y2="451" stroke="#f2f2f2" stroke-width="0.8"/>
<line x1="391.90" y1="309" x2="391.90" y2="420" stroke="#efefef" stroke-width="0.8"/>
<line x1="391.90" y1="464.5" x2="391.90" y2="529.9" stroke="#efefef" stroke-width="0.8"/>
<line x1="391.90" y1="420" x2="391.90" y2="451" stroke="#f2f2f2" stroke-width="0.8"/>
<line x1="414.45" y1="309" x2="414.45" y2="420" stroke="#efefef" stroke-width="0.8"/>
<line x1="414.45" y1="464.5" x2="414.45" y2="529.9" stroke="#efefef" stroke-width="0.8"/>
<line x1="414.45" y1="420" x2="414.45" y2="451" stroke="#f2f2f2" stroke-width="0.8"/>
<line x1="437.00" y1="309" x2="437.00" y2="420" stroke="#efefef" stroke-width="0.8"/>
<line x1="437.00" y1="464.5" x2="437.00" y2="529.9" stroke="#efefef" stroke-width="0.8"/>
<line x1="437.00" y1="420" x2="437.00" y2="451" stroke="#f2f2f2" stroke-width="0.8"/>
<line x1="459.55" y1="309" x2="459.55" y2="420" stroke="#efefef" stroke-width="0.8"/>
<line x1="459.55" y1="464.5" x2="459.55" y2="529.9" stroke="#efefef" stroke-width="0.8"/>
<line x1="459.55" y1="420" x2="459.55" y2="451" stroke="#f2f2f2" stroke-width="0.8"/>
<line x1="482.10" y1="309" x2="482.10" y2="420" stroke="#efefef" stroke-width="0.8"/>
<line x1="482.10" y1="464.5" x2="482.10" y2="529.9" stroke="#efefef" stroke-width="0.8"/>
<line x1="482.10" y1="420" x2="482.10" y2="451" stroke="#f2f2f2" stroke-width="0.8"/>
<line x1="504.65" y1="309" x2="504.65" y2="420" stroke="#efefef" stroke-width="0.8"/>
<line x1="504.65" y1="464.5" x2="504.65" y2="529.9" stroke="#efefef" stroke-width="0.8"/>
<line x1="504.65" y1="420" x2="504.65" y2="451" stroke="#f2f2f2" stroke-width="0.8"/>
<line x1="527.20" y1="309" x2="527.20" y2="420" stroke="#efefef" stroke-width="0.8"/>
<line x1="527.20" y1="464.5" x2="527.20" y2="529.9" stroke="#efefef" stroke-width="0.8"/>
<line x1="527.20" y1="420" x2="527.20" y2="451" stroke="#f2f2f2" stroke-width="0.8"/>
<line x1="302.2" y1="425.17" x2="535.1" y2="425.17" stroke="#f2f2f2" stroke-width="0.8"/>
<line x1="302.2" y1="430.33" x2="535.1" y2="430.33" stroke="#f2f2f2" stroke-width="0.8"/>
<line x1="302.2" y1="435.50" x2="535.1" y2="435.50" stroke="#f2f2f2" stroke-width="0.8"/>
<line x1="302.2" y1="440.67" x2="535.1" y2="440.67" stroke="#f2f2f2" stroke-width="0.8"/>
<line x1="302.2" y1="445.83" x2="535.1" y2="445.83" stroke="#f2f2f2" stroke-width="0.8"/>
<line x1="302.2" y1="521.75" x2="535.1" y2="521.75" stroke="#efefef" stroke-width="0.8"/>
<line x1="302.2" y1="513.20" x2="535.1" y2="513.20" stroke="#efefef" stroke-width="0.8"/>
<line x1="302.2" y1="504.65" x2="535.1" y2="504.65" stroke="#efefef" stroke-width="0.8"/>
<line x1="302.2" y1="496.10" x2="535.1" y2="496.10" stroke="#efefef" stroke-width="0.8"/>
<line x1="302.2" y1="487.55" x2="535.1" y2="487.55" stroke="#efefef" stroke-width="0.8"/>
<line x1="302.2" y1="479.00" x2="535.1" y2="479.00" stroke="#efefef" stroke-width="0.8"/>
<line x1="302.2" y1="470.45" x2="535.1" y2="470.45" stroke="#efefef" stroke-width="0.8"/>
<polyline points="302.30,415.00 302.60,406.00 303.10,394.40 305.10,396.40 307.80,398.50 310.30,390.30 313.40,385.10 316.50,373.80 319.50,369.70 322.60,362.50 323.70,363.50 325.70,345.00 326.70,334.70 329.80,329.60 332.90,322.40 336.00,319.30 339.10,318.30 343.20,320.30 347.30,314.20 350.40,317.30 354.50,314.20 359.60,316.20 365.80,316.20 372.00,318.30 375.00,320.30 382.20,321.40 391.50,325.50 401.70,334.70 412.00,341.90 424.40,352.20 436.70,362.50 457.30,377.90 477.90,392.30 490.20,401.60 498.40,406.70 504.60,403.70 514.90,409.80 519.00,406.70 529.30,413.90 531.30,410.90 534.80,414.50" fill="none" stroke="#80b06a" stroke-width="1.0" stroke-linejoin="round"/>
<rect x="302.50" y="420" width="1.50" height="31.00" fill="#3a3a3a"/>
<rect x="307.60" y="420" width="4.10" height="31.00" fill="#000000"/>
<rect x="311.70" y="420" width="3.00" height="31.00" fill="#808080"/>
<rect x="314.70" y="420" width="1.70" height="31.00" fill="#000000"/>
<rect x="316.40" y="420" width="3.20" height="31.00" fill="#808080"/>
<rect x="319.60" y="420" width="1.40" height="31.00" fill="#000000"/>
<rect x="322.90" y="420" width="4.90" height="31.00" fill="#000000"/>
<rect x="327.80" y="420" width="1.90" height="31.00" fill="#808080"/>
<rect x="329.70" y="420" width="3.60" height="31.00" fill="#000000"/>
<rect x="334.90" y="420" width="3.30" height="31.00" fill="#3a3a3a"/>
<rect x="338.20" y="420" width="0.80" height="31.00" fill="#808080"/>
<rect x="341.50" y="420" width="3.20" height="31.00" fill="#3a3a3a"/>
<rect x="344.70" y="420" width="2.60" height="31.00" fill="#000000"/>
<rect x="351.30" y="420" width="4.30" height="31.00" fill="#000000"/>
<rect x="358.90" y="420" width="2.90" height="31.00" fill="#3a3a3a"/>
<rect x="361.80" y="420" width="1.10" height="31.00" fill="#808080"/>
<rect x="365.10" y="420" width="2.50" height="31.00" fill="#000000"/>
<rect x="368.70" y="420" width="2.20" height="31.00" fill="#000000"/>
<rect x="374.20" y="420" width="1.10" height="31.00" fill="#808080"/>
<rect x="375.60" y="420" width="2.60" height="31.00" fill="#000000"/>
<rect x="380.40" y="420" width="2.50" height="31.00" fill="#000000"/>
<rect x="385.80" y="420" width="2.20" height="31.00" fill="#000000"/>
<rect x="390.90" y="420" width="1.80" height="31.00" fill="#000000"/>
<rect x="410.10" y="420" width="1.40" height="31.00" fill="#808080"/>
<rect x="411.50" y="420" width="2.20" height="31.00" fill="#000000"/>
<rect x="421.70" y="420" width="1.80" height="31.00" fill="#3a3a3a"/>
<rect x="425.70" y="420" width="1.80" height="31.00" fill="#808080"/>
<rect x="430.10" y="420" width="1.80" height="31.00" fill="#000000"/>
<rect x="433.70" y="420" width="1.50" height="31.00" fill="#000000"/>
<rect x="440.30" y="420" width="3.60" height="31.00" fill="#3a3a3a"/>
<rect x="447.20" y="420" width="1.80" height="31.00" fill="#000000"/>
<rect x="453.00" y="420" width="1.80" height="31.00" fill="#3a3a3a"/>
<rect x="457.40" y="420" width="1.40" height="31.00" fill="#808080"/>
<rect x="462.10" y="420" width="1.80" height="31.00" fill="#000000"/>
<rect x="472.10" y="420" width="1.40" height="31.00" fill="#808080"/>
<rect x="475.70" y="420" width="2.80" height="31.00" fill="#000000"/>
<rect x="482.50" y="420" width="1.90" height="31.00" fill="#000000"/>
<rect x="491.60" y="420" width="1.40" height="31.00" fill="#3a3a3a"/>
<rect x="494.80" y="420" width="1.80" height="31.00" fill="#3a3a3a"/>
<rect x="498.00" y="420" width="1.80" height="31.00" fill="#3a3a3a"/>
<rect x="500.70" y="420" width="3.20" height="31.00" fill="#000000"/>
<rect x="505.30" y="420" width="1.30" height="31.00" fill="#808080"/>
<rect x="508.90" y="420" width="1.80" height="31.00" fill="#808080"/>
<rect x="515.30" y="420" width="3.20" height="31.00" fill="#3a3a3a"/>
<rect x="520.30" y="420" width="1.80" height="31.00" fill="#3a3a3a"/>
<rect x="528.90" y="420" width="1.80" height="31.00" fill="#808080"/>
<rect x="302.20" y="451" width="3.90" height="13.50" fill="#b8272a"/>
<rect x="305.50" y="451" width="38.70" height="13.50" fill="#dc2f28"/>
<rect x="343.60" y="451" width="46.50" height="13.50" fill="#f26c4c"/>
<rect x="389.50" y="451" width="59.40" height="13.50" fill="#f7ae93"/>
<rect x="448.30" y="451" width="26.50" height="13.50" fill="#fce3d8"/>
<rect x="474.20" y="451" width="21.30" height="13.50" fill="#eef1fb"/>
<rect x="494.90" y="451" width="17.60" height="13.50" fill="#c0d9e8"/>
<rect x="511.90" y="451" width="8.70" height="13.50" fill="#72afd8"/>
<rect x="520.00" y="451" width="15.70" height="13.50" fill="#3683c0"/>
<rect x="302.50" y="451" width="1.50" height="13.50" fill="#000" opacity="0.10"/>
<rect x="307.60" y="451" width="4.10" height="13.50" fill="#000" opacity="0.10"/>
<rect x="311.70" y="451" width="3.00" height="13.50" fill="#000" opacity="0.10"/>
<rect x="314.70" y="451" width="1.70" height="13.50" fill="#000" opacity="0.10"/>
<rect x="316.40" y="451" width="3.20" height="13.50" fill="#000" opacity="0.10"/>
<rect x="319.60" y="451" width="1.40" height="13.50" fill="#000" opacity="0.10"/>
<rect x="322.90" y="451" width="4.90" height="13.50" fill="#000" opacity="0.10"/>
<rect x="327.80" y="451" width="1.90" height="13.50" fill="#000" opacity="0.10"/>
<rect x="329.70" y="451" width="3.60" height="13.50" fill="#000" opacity="0.10"/>
<rect x="334.90" y="451" width="3.30" height="13.50" fill="#000" opacity="0.10"/>
<rect x="338.20" y="451" width="0.80" height="13.50" fill="#000" opacity="0.10"/>
<rect x="341.50" y="451" width="3.20" height="13.50" fill="#000" opacity="0.10"/>
<rect x="344.70" y="451" width="2.60" height="13.50" fill="#000" opacity="0.10"/>
<rect x="351.30" y="451" width="4.30" height="13.50" fill="#000" opacity="0.10"/>
<rect x="358.90" y="451" width="2.90" height="13.50" fill="#000" opacity="0.10"/>
<rect x="361.80" y="451" width="1.10" height="13.50" fill="#000" opacity="0.10"/>
<rect x="365.10" y="451" width="2.50" height="13.50" fill="#000" opacity="0.10"/>
<rect x="368.70" y="451" width="2.20" height="13.50" fill="#000" opacity="0.10"/>
<rect x="374.20" y="451" width="1.10" height="13.50" fill="#000" opacity="0.10"/>
<rect x="375.60" y="451" width="2.60" height="13.50" fill="#000" opacity="0.10"/>
<rect x="380.40" y="451" width="2.50" height="13.50" fill="#000" opacity="0.10"/>
<rect x="385.80" y="451" width="2.20" height="13.50" fill="#000" opacity="0.10"/>
<rect x="390.90" y="451" width="1.80" height="13.50" fill="#000" opacity="0.10"/>
<rect x="410.10" y="451" width="1.40" height="13.50" fill="#000" opacity="0.10"/>
<rect x="411.50" y="451" width="2.20" height="13.50" fill="#000" opacity="0.10"/>
<rect x="421.70" y="451" width="1.80" height="13.50" fill="#000" opacity="0.10"/>
<rect x="425.70" y="451" width="1.80" height="13.50" fill="#000" opacity="0.10"/>
<rect x="430.10" y="451" width="1.80" height="13.50" fill="#000" opacity="0.10"/>
<rect x="433.70" y="451" width="1.50" height="13.50" fill="#000" opacity="0.10"/>
<rect x="440.30" y="451" width="3.60" height="13.50" fill="#000" opacity="0.10"/>
<rect x="447.20" y="451" width="1.80" height="13.50" fill="#000" opacity="0.10"/>
<rect x="453.00" y="451" width="1.80" height="13.50" fill="#000" opacity="0.10"/>
<rect x="457.40" y="451" width="1.40" height="13.50" fill="#000" opacity="0.10"/>
<rect x="462.10" y="451" width="1.80" height="13.50" fill="#000" opacity="0.10"/>
<rect x="472.10" y="451" width="1.40" height="13.50" fill="#000" opacity="0.10"/>
<rect x="475.70" y="451" width="2.80" height="13.50" fill="#000" opacity="0.10"/>
<rect x="482.50" y="451" width="1.90" height="13.50" fill="#000" opacity="0.10"/>
<rect x="491.60" y="451" width="1.40" height="13.50" fill="#000" opacity="0.10"/>
<rect x="494.80" y="451" width="1.80" height="13.50" fill="#000" opacity="0.10"/>
<rect x="498.00" y="451" width="1.80" height="13.50" fill="#000" opacity="0.10"/>
<rect x="500.70" y="451" width="3.20" height="13.50" fill="#000" opacity="0.10"/>
<rect x="505.30" y="451" width="1.30" height="13.50" fill="#000" opacity="0.10"/>
<rect x="508.90" y="451" width="1.80" height="13.50" fill="#000" opacity="0.10"/>
<rect x="515.30" y="451" width="3.20" height="13.50" fill="#000" opacity="0.10"/>
<rect x="520.30" y="451" width="1.80" height="13.50" fill="#000" opacity="0.10"/>
<rect x="528.90" y="451" width="1.80" height="13.50" fill="#000" opacity="0.10"/>
<polygon points="302.20,496.10 302.20,482.25 302.98,484.10 303.75,485.53 304.53,486.30 305.31,486.99 306.08,487.62 306.86,487.95 307.63,488.28 308.41,488.61 309.19,488.88 309.96,489.10 310.74,489.32 311.52,489.54 312.29,489.74 313.07,489.93 313.84,490.13 314.62,490.32 315.40,490.52 316.17,490.71 316.95,490.84 317.73,490.97 318.50,491.09 319.28,491.22 320.06,491.35 320.83,491.44 321.61,491.52 322.38,491.60 323.16,491.67 323.94,491.75 324.71,491.83 325.49,491.91 326.27,491.98 327.04,492.06 327.82,492.14 328.60,492.21 329.37,492.27 330.15,492.31 330.92,492.36 331.70,492.40 332.48,492.44 333.25,492.48 334.03,492.52 334.81,492.56 335.58,492.61 336.36,492.65 337.13,492.69 337.91,492.73 338.69,492.77 339.46,492.81 340.24,492.86 341.02,492.90 341.79,492.95 342.57,492.99 343.35,493.04 344.12,493.09 344.90,493.13 345.67,493.18 346.45,493.23 347.23,493.27 348.00,493.32 348.78,493.36 349.56,493.40 350.33,493.43 351.11,493.47 351.89,493.50 352.66,493.54 353.44,493.57 354.21,493.61 354.99,493.64 355.77,493.68 356.54,493.71 357.32,493.75 358.10,493.78 358.87,493.82 359.65,493.85 360.43,493.88 361.20,493.92 361.98,493.95 362.75,493.98 363.53,494.02 364.31,494.05 365.08,494.09 365.86,494.12 366.64,494.15 367.41,494.19 368.19,494.22 368.96,494.25 369.74,494.29 370.52,494.32 371.29,494.36 372.07,494.39 372.85,494.41 373.62,494.43 374.40,494.45 375.18,494.48 375.95,494.50 376.73,494.52 377.50,494.54 378.28,494.56 379.06,494.58 379.83,494.61 380.61,494.63 381.39,494.65 382.16,494.67 382.94,494.69 383.71,494.71 384.49,494.74 385.27,494.76 386.04,494.78 386.82,494.80 387.60,494.82 388.37,494.83 389.15,494.84 389.93,494.85 390.70,494.87 391.48,494.88 392.25,494.89 393.03,494.90 393.81,494.91 394.58,494.92 395.36,494.94 396.14,494.95 396.91,494.96 397.69,494.97 398.47,494.98 399.24,494.99 400.02,495.00 400.79,495.02 401.57,495.03 402.35,495.04 403.12,495.05 403.90,495.06 404.68,495.07 405.45,495.08 406.23,495.09 407.00,495.10 407.78,495.11 408.56,495.12 409.33,495.13 410.11,495.13 410.89,495.14 411.66,495.15 412.44,495.16 413.22,495.17 413.99,495.18 414.77,495.19 415.54,495.19 416.32,495.20 417.10,495.21 417.87,495.22 418.65,495.23 419.43,495.24 420.20,495.25 420.98,495.26 421.76,495.28 422.53,495.29 423.31,495.31 424.08,495.32 424.86,495.34 425.64,495.35 426.41,495.37 427.19,495.38 427.97,495.40 428.74,495.41 429.52,495.43 430.30,495.45 431.07,495.46 431.85,495.48 432.62,495.49 433.40,495.51 434.18,495.52 434.95,495.54 435.73,495.55 436.51,495.57 437.28,495.58 438.06,495.60 438.83,495.61 439.61,495.63 440.39,495.64 441.16,495.66 441.94,495.67 442.72,495.69 443.49,495.71 444.27,495.72 445.05,495.74 445.82,495.76 446.60,495.77 447.37,495.79 448.15,495.81 448.93,495.82 449.70,495.84 450.48,495.85 451.26,495.87 452.03,495.89 452.81,495.90 453.59,495.92 454.36,495.94 455.14,495.95 455.91,495.97 456.69,495.99 457.47,496.00 458.24,496.02 459.02,496.04 459.80,496.05 460.57,496.07 461.35,496.09 462.12,496.11 462.90,496.14 463.68,496.18 464.45,496.21 465.23,496.25 466.01,496.29 466.78,496.32 467.56,496.36 468.34,496.39 469.11,496.43 469.89,496.46 470.66,496.50 471.44,496.53 472.22,496.57 472.99,496.61 473.77,496.64 474.55,496.68 475.32,496.71 476.10,496.75 476.88,496.78 477.65,496.83 478.43,496.89 479.20,496.94 479.98,496.99 480.76,497.04 481.53,497.09 482.31,497.14 483.09,497.19 483.86,497.24 484.64,497.29 485.41,497.34 486.19,497.39 486.97,497.44 487.74,497.49 488.52,497.54 489.30,497.59 490.07,497.64 490.85,497.69 491.63,497.76 492.40,497.83 493.18,497.91 493.95,497.99 494.73,498.07 495.51,498.14 496.28,498.22 497.06,498.30 497.84,498.38 498.61,498.46 499.39,498.55 500.17,498.66 500.94,498.76 501.72,498.87 502.49,498.98 503.27,499.09 504.05,499.20 504.82,499.30 505.60,499.41 506.38,499.52 507.15,499.62 507.93,499.72 508.70,499.82 509.48,499.92 510.26,500.02 511.03,500.12 511.81,500.22 512.59,500.32 513.36,500.45 514.14,500.59 514.92,500.73 515.69,500.87 516.47,501.02 517.24,501.16 518.02,501.30 518.80,501.44 519.57,501.59 520.35,501.75 521.13,501.94 521.90,502.12 522.68,502.31 523.46,502.49 524.23,502.68 525.01,502.91 525.78,503.20 526.56,503.48 527.34,503.80 528.11,504.22 528.89,504.65 529.67,505.08 530.44,505.50 531.22,506.36 531.99,507.22 532.77,508.07 533.55,509.69 534.32,511.42 535.10,513.63 535.10,496.10" fill="#c2c2c2" stroke="none"/>
<line x1="302.2" y1="496.10" x2="535.1" y2="496.10" stroke="#a8a8a8" stroke-width="0.6"/>
<rect x="302.2" y="309" width="232.90" height="111.00" fill="none" stroke="#1a1a1a" stroke-width="1.1"/>
<rect x="302.2" y="420" width="232.90" height="44.50" fill="none" stroke="#1a1a1a" stroke-width="1.1"/>
<rect x="302.2" y="464.5" width="232.90" height="65.40" fill="none" stroke="#1a1a1a" stroke-width="1.1"/>
<line x1="299.2" y1="415.10" x2="302.2" y2="415.10" stroke="#333" stroke-width="0.9"/>
<text x="297.59999999999997" y="417.30" text-anchor="end" font-size="6.6" fill="#383838" stroke="#383838" stroke-width="0.22">0.0</text>
<line x1="299.2" y1="394.76" x2="302.2" y2="394.76" stroke="#333" stroke-width="0.9"/>
<text x="297.59999999999997" y="396.96" text-anchor="end" font-size="6.6" fill="#383838" stroke="#383838" stroke-width="0.22">0.1</text>
<line x1="299.2" y1="374.42" x2="302.2" y2="374.42" stroke="#333" stroke-width="0.9"/>
<text x="297.59999999999997" y="376.62" text-anchor="end" font-size="6.6" fill="#383838" stroke="#383838" stroke-width="0.22">0.2</text>
<line x1="299.2" y1="354.08" x2="302.2" y2="354.08" stroke="#333" stroke-width="0.9"/>
<text x="297.59999999999997" y="356.28" text-anchor="end" font-size="6.6" fill="#383838" stroke="#383838" stroke-width="0.22">0.3</text>
<line x1="299.2" y1="333.74" x2="302.2" y2="333.74" stroke="#333" stroke-width="0.9"/>
<text x="297.59999999999997" y="335.94" text-anchor="end" font-size="6.6" fill="#383838" stroke="#383838" stroke-width="0.22">0.4</text>
<line x1="299.2" y1="313.40" x2="302.2" y2="313.40" stroke="#333" stroke-width="0.9"/>
<text x="297.59999999999997" y="315.60" text-anchor="end" font-size="6.6" fill="#383838" stroke="#383838" stroke-width="0.22">0.5</text>
<line x1="299.2" y1="479.00" x2="302.2" y2="479.00" stroke="#333" stroke-width="0.9"/>
<text x="297.59999999999997" y="481.20" text-anchor="end" font-size="6.6" fill="#383838" stroke="#383838" stroke-width="0.22">2</text>
<line x1="299.2" y1="496.10" x2="302.2" y2="496.10" stroke="#333" stroke-width="0.9"/>
<text x="297.59999999999997" y="498.30" text-anchor="end" font-size="6.6" fill="#383838" stroke="#383838" stroke-width="0.22">0</text>
<line x1="299.2" y1="513.20" x2="302.2" y2="513.20" stroke="#333" stroke-width="0.9"/>
<text x="297.59999999999997" y="515.40" text-anchor="end" font-size="6.6" fill="#383838" stroke="#383838" stroke-width="0.22">−2</text>
<line x1="346.80" y1="529.9" x2="346.80" y2="532.4" stroke="#333" stroke-width="0.9"/>
<text x="346.80" y="540.20" text-anchor="middle" font-size="6.6" fill="#383838" stroke="#383838" stroke-width="0.22">10000</text>
<line x1="391.90" y1="529.9" x2="391.90" y2="532.4" stroke="#333" stroke-width="0.9"/>
<text x="391.90" y="540.20" text-anchor="middle" font-size="6.6" fill="#383838" stroke="#383838" stroke-width="0.22">20000</text>
<line x1="437.00" y1="529.9" x2="437.00" y2="532.4" stroke="#333" stroke-width="0.9"/>
<text x="437.00" y="540.20" text-anchor="middle" font-size="6.6" fill="#383838" stroke="#383838" stroke-width="0.22">30000</text>
<line x1="482.10" y1="529.9" x2="482.10" y2="532.4" stroke="#333" stroke-width="0.9"/>
<text x="482.10" y="540.20" text-anchor="middle" font-size="6.6" fill="#383838" stroke="#383838" stroke-width="0.22">40000</text>
<line x1="527.20" y1="529.9" x2="527.20" y2="532.4" stroke="#333" stroke-width="0.9"/>
<text x="527.20" y="540.20" text-anchor="middle" font-size="6.6" fill="#383838" stroke="#383838" stroke-width="0.22">50000</text>
<text x="418.65" y="549.10" text-anchor="middle" font-size="7.5" fill="#1a1a1a" stroke="#1a1a1a" stroke-width="0.22">Rank in Ordered Dataset</text>
<text transform="translate(284.00,364.50) rotate(-90)" text-anchor="middle" font-size="7.5" fill="#1a1a1a" stroke="#1a1a1a" stroke-width="0.22">Enrichment Score</text>
<text transform="translate(284.00,497.20) rotate(-90)" text-anchor="middle" font-size="7.5" fill="#1a1a1a" stroke="#1a1a1a" stroke-width="0.22">Ranked metric</text>
<text x="486.30" y="318.30" font-size="6.62" fill="#1a1a1a" stroke="#1a1a1a" stroke-width="0.22">NES = 1.961</text>
<text x="486.30" y="327.50" font-size="6.62" fill="#1a1a1a" stroke="#1a1a1a" stroke-width="0.22">p.adj = 0.015</text>
<text x="486.30" y="336.70" font-size="6.62" fill="#1a1a1a" stroke="#1a1a1a" stroke-width="0.22">FDR = 0.009</text>
<text x="283.40" y="304.80" font-family='"Liberation Serif", serif' font-size="16" fill="#000" stroke="#000" stroke-width="0.22">E</text>
<text x="301.40" y="301.20" font-size="9.23" fill="#000" stroke="#000" stroke-width="0.22">KEGG_OXIDATIVE_PHOSPHORYLATION</text>
<line x1="581.8" y1="416.99" x2="814.2" y2="416.99" stroke="#efefef" stroke-width="0.8"/>
<line x1="581.8" y1="406.90" x2="814.2" y2="406.90" stroke="#efefef" stroke-width="0.8"/>
<line x1="581.8" y1="396.81" x2="814.2" y2="396.81" stroke="#efefef" stroke-width="0.8"/>
<line x1="581.8" y1="386.72" x2="814.2" y2="386.72" stroke="#efefef" stroke-width="0.8"/>
<line x1="581.8" y1="376.64" x2="814.2" y2="376.64" stroke="#efefef" stroke-width="0.8"/>
<line x1="581.8" y1="366.55" x2="814.2" y2="366.55" stroke="#efefef" stroke-width="0.8"/>
<line x1="581.8" y1="356.46" x2="814.2" y2="356.46" stroke="#efefef" stroke-width="0.8"/>
<line x1="581.8" y1="346.38" x2="814.2" y2="346.38" stroke="#efefef" stroke-width="0.8"/>
<line x1="581.8" y1="336.29" x2="814.2" y2="336.29" stroke="#efefef" stroke-width="0.8"/>
<line x1="581.8" y1="326.20" x2="814.2" y2="326.20" stroke="#efefef" stroke-width="0.8"/>
<line x1="581.8" y1="316.11" x2="814.2" y2="316.11" stroke="#efefef" stroke-width="0.8"/>
<line x1="604.00" y1="307.8" x2="604.00" y2="417.9" stroke="#efefef" stroke-width="0.8"/>
<line x1="604.00" y1="462.8" x2="604.00" y2="528.6" stroke="#efefef" stroke-width="0.8"/>
<line x1="604.00" y1="417.9" x2="604.00" y2="449.6" stroke="#f2f2f2" stroke-width="0.8"/>
<line x1="626.50" y1="307.8" x2="626.50" y2="417.9" stroke="#efefef" stroke-width="0.8"/>
<line x1="626.50" y1="462.8" x2="626.50" y2="528.6" stroke="#efefef" stroke-width="0.8"/>
<line x1="626.50" y1="417.9" x2="626.50" y2="449.6" stroke="#f2f2f2" stroke-width="0.8"/>
<line x1="649.00" y1="307.8" x2="649.00" y2="417.9" stroke="#efefef" stroke-width="0.8"/>
<line x1="649.00" y1="462.8" x2="649.00" y2="528.6" stroke="#efefef" stroke-width="0.8"/>
<line x1="649.00" y1="417.9" x2="649.00" y2="449.6" stroke="#f2f2f2" stroke-width="0.8"/>
<line x1="671.50" y1="307.8" x2="671.50" y2="417.9" stroke="#efefef" stroke-width="0.8"/>
<line x1="671.50" y1="462.8" x2="671.50" y2="528.6" stroke="#efefef" stroke-width="0.8"/>
<line x1="671.50" y1="417.9" x2="671.50" y2="449.6" stroke="#f2f2f2" stroke-width="0.8"/>
<line x1="694.00" y1="307.8" x2="694.00" y2="417.9" stroke="#efefef" stroke-width="0.8"/>
<line x1="694.00" y1="462.8" x2="694.00" y2="528.6" stroke="#efefef" stroke-width="0.8"/>
<line x1="694.00" y1="417.9" x2="694.00" y2="449.6" stroke="#f2f2f2" stroke-width="0.8"/>
<line x1="716.50" y1="307.8" x2="716.50" y2="417.9" stroke="#efefef" stroke-width="0.8"/>
<line x1="716.50" y1="462.8" x2="716.50" y2="528.6" stroke="#efefef" stroke-width="0.8"/>
<line x1="716.50" y1="417.9" x2="716.50" y2="449.6" stroke="#f2f2f2" stroke-width="0.8"/>
<line x1="739.00" y1="307.8" x2="739.00" y2="417.9" stroke="#efefef" stroke-width="0.8"/>
<line x1="739.00" y1="462.8" x2="739.00" y2="528.6" stroke="#efefef" stroke-width="0.8"/>
<line x1="739.00" y1="417.9" x2="739.00" y2="449.6" stroke="#f2f2f2" stroke-width="0.8"/>
<line x1="761.50" y1="307.8" x2="761.50" y2="417.9" stroke="#efefef" stroke-width="0.8"/>
<line x1="761.50" y1="462.8" x2="761.50" y2="528.6" stroke="#efefef" stroke-width="0.8"/>
<line x1="761.50" y1="417.9" x2="761.50" y2="449.6" stroke="#f2f2f2" stroke-width="0.8"/>
<line x1="784.00" y1="307.8" x2="784.00" y2="417.9" stroke="#efefef" stroke-width="0.8"/>
<line x1="784.00" y1="462.8" x2="784.00" y2="528.6" stroke="#efefef" stroke-width="0.8"/>
<line x1="784.00" y1="417.9" x2="784.00" y2="449.6" stroke="#f2f2f2" stroke-width="0.8"/>
<line x1="806.50" y1="307.8" x2="806.50" y2="417.9" stroke="#efefef" stroke-width="0.8"/>
<line x1="806.50" y1="462.8" x2="806.50" y2="528.6" stroke="#efefef" stroke-width="0.8"/>
<line x1="806.50" y1="417.9" x2="806.50" y2="449.6" stroke="#f2f2f2" stroke-width="0.8"/>
<line x1="581.8" y1="423.18" x2="814.2" y2="423.18" stroke="#f2f2f2" stroke-width="0.8"/>
<line x1="581.8" y1="428.47" x2="814.2" y2="428.47" stroke="#f2f2f2" stroke-width="0.8"/>
<line x1="581.8" y1="433.75" x2="814.2" y2="433.75" stroke="#f2f2f2" stroke-width="0.8"/>
<line x1="581.8" y1="439.03" x2="814.2" y2="439.03" stroke="#f2f2f2" stroke-width="0.8"/>
<line x1="581.8" y1="444.32" x2="814.2" y2="444.32" stroke="#f2f2f2" stroke-width="0.8"/>
<line x1="581.8" y1="520.59" x2="814.2" y2="520.59" stroke="#efefef" stroke-width="0.8"/>
<line x1="581.8" y1="511.96" x2="814.2" y2="511.96" stroke="#efefef" stroke-width="0.8"/>
<line x1="581.8" y1="503.33" x2="814.2" y2="503.33" stroke="#efefef" stroke-width="0.8"/>
<line x1="581.8" y1="494.70" x2="814.2" y2="494.70" stroke="#efefef" stroke-width="0.8"/>
<line x1="581.8" y1="486.07" x2="814.2" y2="486.07" stroke="#efefef" stroke-width="0.8"/>
<line x1="581.8" y1="477.44" x2="814.2" y2="477.44" stroke="#efefef" stroke-width="0.8"/>
<line x1="581.8" y1="468.81" x2="814.2" y2="468.81" stroke="#efefef" stroke-width="0.8"/>
<polyline points="582.00,406.90 582.10,398.50 583.10,390.30 584.10,385.20 587.20,386.20 590.30,380.00 593.40,376.00 596.50,367.70 599.50,360.50 601.60,354.30 603.70,355.40 604.70,341.00 605.70,332.70 608.80,331.70 610.80,326.60 613.90,321.40 617.00,319.40 623.20,318.30 626.30,313.20 630.40,316.30 633.50,313.80 639.60,317.30 645.80,319.40 649.90,319.40 655.00,322.50 661.20,324.50 663.20,323.50 675.60,332.70 690.00,343.00 706.40,354.30 716.70,360.50 737.30,375.90 757.90,392.40 768.10,401.70 778.40,406.80 780.50,405.80 785.60,400.60 799.00,410.90 807.20,413.00 810.30,402.70 814.00,406.00" fill="none" stroke="#80b06a" stroke-width="1.0" stroke-linejoin="round"/>
<rect x="582.70" y="417.9" width="3.00" height="31.70" fill="#3a3a3a"/>
<rect x="587.10" y="417.9" width="2.40" height="31.70" fill="#3a3a3a"/>
<rect x="589.50" y="417.9" width="2.20" height="31.70" fill="#808080"/>
<rect x="591.70" y="417.9" width="2.50" height="31.70" fill="#3a3a3a"/>
<rect x="594.20" y="417.9" width="1.60" height="31.70" fill="#000000"/>
<rect x="595.80" y="417.9" width="1.40" height="31.70" fill="#808080"/>
<rect x="597.20" y="417.9" width="1.60" height="31.70" fill="#3a3a3a"/>
<rect x="598.80" y="417.9" width="1.90" height="31.70" fill="#000000"/>
<rect x="602.90" y="417.9" width="2.70" height="31.70" fill="#000000"/>
<rect x="607.30" y="417.9" width="5.40" height="31.70" fill="#000000"/>
<rect x="612.70" y="417.9" width="2.50" height="31.70" fill="#dedede"/>
<rect x="615.20" y="417.9" width="3.00" height="31.70" fill="#3a3a3a"/>
<rect x="618.20" y="417.9" width="2.20" height="31.70" fill="#808080"/>
<rect x="622.00" y="417.9" width="1.50" height="31.70" fill="#000000"/>
<rect x="623.50" y="417.9" width="1.40" height="31.70" fill="#808080"/>
<rect x="624.90" y="417.9" width="1.80" height="31.70" fill="#000000"/>
<rect x="631.10" y="417.9" width="3.30" height="31.70" fill="#000000"/>
<rect x="638.70" y="417.9" width="4.00" height="31.70" fill="#808080"/>
<rect x="644.20" y="417.9" width="2.50" height="31.70" fill="#000000"/>
<rect x="647.80" y="417.9" width="2.60" height="31.70" fill="#000000"/>
<rect x="652.90" y="417.9" width="1.80" height="31.70" fill="#3a3a3a"/>
<rect x="656.90" y="417.9" width="2.20" height="31.70" fill="#3a3a3a"/>
<rect x="659.80" y="417.9" width="2.20" height="31.70" fill="#000000"/>
<rect x="665.60" y="417.9" width="2.20" height="31.70" fill="#3a3a3a"/>
<rect x="671.10" y="417.9" width="1.80" height="31.70" fill="#808080"/>
<rect x="677.30" y="417.9" width="1.80" height="31.70" fill="#3a3a3a"/>
<rect x="684.20" y="417.9" width="1.70" height="31.70" fill="#000000"/>
<rect x="690.20" y="417.9" width="2.50" height="31.70" fill="#000000"/>
<rect x="701.60" y="417.9" width="1.30" height="31.70" fill="#3a3a3a"/>
<rect x="704.60" y="417.9" width="3.40" height="31.70" fill="#000000"/>
<rect x="710.50" y="417.9" width="1.70" height="31.70" fill="#000000"/>
<rect x="716.00" y="417.9" width="1.70" height="31.70" fill="#000000"/>
<rect x="721.60" y="417.9" width="1.20" height="31.70" fill="#000000"/>
<rect x="724.10" y="417.9" width="1.30" height="31.70" fill="#808080"/>
<rect x="726.60" y="417.9" width="1.70" height="31.70" fill="#000000"/>
<rect x="736.80" y="417.9" width="1.30" height="31.70" fill="#808080"/>
<rect x="738.50" y="417.9" width="1.70" height="31.70" fill="#3a3a3a"/>
<rect x="741.10" y="417.9" width="2.10" height="31.70" fill="#000000"/>
<rect x="750.50" y="417.9" width="2.10" height="31.70" fill="#000000"/>
<rect x="755.20" y="417.9" width="1.70" height="31.70" fill="#000000"/>
<rect x="767.10" y="417.9" width="1.60" height="31.70" fill="#000000"/>
<rect x="771.30" y="417.9" width="1.30" height="31.70" fill="#3a3a3a"/>
<rect x="775.10" y="417.9" width="1.70" height="31.70" fill="#000000"/>
<rect x="780.20" y="417.9" width="3.80" height="31.70" fill="#000000"/>
<rect x="784.40" y="417.9" width="2.20" height="31.70" fill="#808080"/>
<rect x="799.30" y="417.9" width="1.70" height="31.70" fill="#808080"/>
<rect x="804.00" y="417.9" width="1.20" height="31.70" fill="#3a3a3a"/>
<rect x="806.90" y="417.9" width="3.00" height="31.70" fill="#000000"/>
<rect x="581.80" y="449.6" width="4.80" height="13.20" fill="#b8272a"/>
<rect x="586.00" y="449.6" width="29.50" height="13.20" fill="#dc2f28"/>
<rect x="614.90" y="449.6" width="45.00" height="13.20" fill="#f26c4c"/>
<rect x="659.30" y="449.6" width="52.60" height="13.20" fill="#f7ae93"/>
<rect x="711.30" y="449.6" width="37.60" height="13.20" fill="#fce3d8"/>
<rect x="748.30" y="449.6" width="24.30" height="13.20" fill="#eef1fb"/>
<rect x="772.00" y="449.6" width="18.30" height="13.20" fill="#c0d9e8"/>
<rect x="789.70" y="449.6" width="9.50" height="13.20" fill="#72afd8"/>
<rect x="798.60" y="449.6" width="16.20" height="13.20" fill="#3683c0"/>
<rect x="582.70" y="449.6" width="3.00" height="13.20" fill="#000" opacity="0.10"/>
<rect x="587.10" y="449.6" width="2.40" height="13.20" fill="#000" opacity="0.10"/>
<rect x="589.50" y="449.6" width="2.20" height="13.20" fill="#000" opacity="0.10"/>
<rect x="591.70" y="449.6" width="2.50" height="13.20" fill="#000" opacity="0.10"/>
<rect x="594.20" y="449.6" width="1.60" height="13.20" fill="#000" opacity="0.10"/>
<rect x="595.80" y="449.6" width="1.40" height="13.20" fill="#000" opacity="0.10"/>
<rect x="597.20" y="449.6" width="1.60" height="13.20" fill="#000" opacity="0.10"/>
<rect x="598.80" y="449.6" width="1.90" height="13.20" fill="#000" opacity="0.10"/>
<rect x="602.90" y="449.6" width="2.70" height="13.20" fill="#000" opacity="0.10"/>
<rect x="607.30" y="449.6" width="5.40" height="13.20" fill="#000" opacity="0.10"/>
<rect x="612.70" y="449.6" width="2.50" height="13.20" fill="#000" opacity="0.10"/>
<rect x="615.20" y="449.6" width="3.00" height="13.20" fill="#000" opacity="0.10"/>
<rect x="618.20" y="449.6" width="2.20" height="13.20" fill="#000" opacity="0.10"/>
<rect x="622.00" y="449.6" width="1.50" height="13.20" fill="#000" opacity="0.10"/>
<rect x="623.50" y="449.6" width="1.40" height="13.20" fill="#000" opacity="0.10"/>
<rect x="624.90" y="449.6" width="1.80" height="13.20" fill="#000" opacity="0.10"/>
<rect x="631.10" y="449.6" width="3.30" height="13.20" fill="#000" opacity="0.10"/>
<rect x="638.70" y="449.6" width="4.00" height="13.20" fill="#000" opacity="0.10"/>
<rect x="644.20" y="449.6" width="2.50" height="13.20" fill="#000" opacity="0.10"/>
<rect x="647.80" y="449.6" width="2.60" height="13.20" fill="#000" opacity="0.10"/>
<rect x="652.90" y="449.6" width="1.80" height="13.20" fill="#000" opacity="0.10"/>
<rect x="656.90" y="449.6" width="2.20" height="13.20" fill="#000" opacity="0.10"/>
<rect x="659.80" y="449.6" width="2.20" height="13.20" fill="#000" opacity="0.10"/>
<rect x="665.60" y="449.6" width="2.20" height="13.20" fill="#000" opacity="0.10"/>
<rect x="671.10" y="449.6" width="1.80" height="13.20" fill="#000" opacity="0.10"/>
<rect x="677.30" y="449.6" width="1.80" height="13.20" fill="#000" opacity="0.10"/>
<rect x="684.20" y="449.6" width="1.70" height="13.20" fill="#000" opacity="0.10"/>
<rect x="690.20" y="449.6" width="2.50" height="13.20" fill="#000" opacity="0.10"/>
<rect x="701.60" y="449.6" width="1.30" height="13.20" fill="#000" opacity="0.10"/>
<rect x="704.60" y="449.6" width="3.40" height="13.20" fill="#000" opacity="0.10"/>
<rect x="710.50" y="449.6" width="1.70" height="13.20" fill="#000" opacity="0.10"/>
<rect x="716.00" y="449.6" width="1.70" height="13.20" fill="#000" opacity="0.10"/>
<rect x="721.60" y="449.6" width="1.20" height="13.20" fill="#000" opacity="0.10"/>
<rect x="724.10" y="449.6" width="1.30" height="13.20" fill="#000" opacity="0.10"/>
<rect x="726.60" y="449.6" width="1.70" height="13.20" fill="#000" opacity="0.10"/>
<rect x="736.80" y="449.6" width="1.30" height="13.20" fill="#000" opacity="0.10"/>
<rect x="738.50" y="449.6" width="1.70" height="13.20" fill="#000" opacity="0.10"/>
<rect x="741.10" y="449.6" width="2.10" height="13.20" fill="#000" opacity="0.10"/>
<rect x="750.50" y="449.6" width="2.10" height="13.20" fill="#000" opacity="0.10"/>
<rect x="755.20" y="449.6" width="1.70" height="13.20" fill="#000" opacity="0.10"/>
<rect x="767.10" y="449.6" width="1.60" height="13.20" fill="#000" opacity="0.10"/>
<rect x="771.30" y="449.6" width="1.30" height="13.20" fill="#000" opacity="0.10"/>
<rect x="775.10" y="449.6" width="1.70" height="13.20" fill="#000" opacity="0.10"/>
<rect x="780.20" y="449.6" width="3.80" height="13.20" fill="#000" opacity="0.10"/>
<rect x="784.40" y="449.6" width="2.20" height="13.20" fill="#000" opacity="0.10"/>
<rect x="799.30" y="449.6" width="1.70" height="13.20" fill="#000" opacity="0.10"/>
<rect x="804.00" y="449.6" width="1.20" height="13.20" fill="#000" opacity="0.10"/>
<rect x="806.90" y="449.6" width="3.00" height="13.20" fill="#000" opacity="0.10"/>
<polygon points="581.80,494.70 581.80,480.72 582.57,482.59 583.35,484.03 584.12,484.80 584.90,485.51 585.67,486.14 586.45,486.47 587.22,486.81 588.00,487.14 588.77,487.41 589.55,487.63 590.32,487.85 591.10,488.07 591.87,488.28 592.65,488.48 593.42,488.67 594.19,488.87 594.97,489.07 595.74,489.26 596.52,489.39 597.29,489.52 598.07,489.65 598.84,489.77 599.62,489.90 600.39,490.00 601.17,490.08 601.94,490.16 602.72,490.23 603.49,490.31 604.27,490.39 605.04,490.47 605.81,490.54 606.59,490.62 607.36,490.70 608.14,490.78 608.91,490.84 609.69,490.88 610.46,490.92 611.24,490.96 612.01,491.01 612.79,491.05 613.56,491.09 614.34,491.13 615.11,491.17 615.89,491.22 616.66,491.26 617.43,491.30 618.21,491.34 618.98,491.38 619.76,491.43 620.53,491.47 621.31,491.52 622.08,491.57 622.86,491.61 623.63,491.66 624.41,491.71 625.18,491.75 625.96,491.80 626.73,491.85 627.51,491.89 628.28,491.94 629.05,491.97 629.83,492.01 630.60,492.04 631.38,492.08 632.15,492.11 632.93,492.15 633.70,492.18 634.48,492.22 635.25,492.25 636.03,492.29 636.80,492.32 637.58,492.36 638.35,492.39 639.13,492.43 639.90,492.46 640.67,492.50 641.45,492.53 642.22,492.56 643.00,492.60 643.77,492.63 644.55,492.67 645.32,492.70 646.10,492.74 646.87,492.77 647.65,492.80 648.42,492.84 649.20,492.87 649.97,492.91 650.75,492.94 651.52,492.97 652.29,493.00 653.07,493.02 653.84,493.04 654.62,493.06 655.39,493.08 656.17,493.10 656.94,493.13 657.72,493.15 658.49,493.17 659.27,493.19 660.04,493.21 660.82,493.24 661.59,493.26 662.37,493.28 663.14,493.30 663.91,493.32 664.69,493.34 665.46,493.37 666.24,493.39 667.01,493.41 667.79,493.42 668.56,493.43 669.34,493.44 670.11,493.45 670.89,493.47 671.66,493.48 672.44,493.49 673.21,493.50 673.99,493.51 674.76,493.52 675.53,493.54 676.31,493.55 677.08,493.56 677.86,493.57 678.63,493.58 679.41,493.59 680.18,493.61 680.96,493.62 681.73,493.63 682.51,493.64 683.28,493.65 684.06,493.66 684.83,493.67 685.61,493.68 686.38,493.69 687.15,493.70 687.93,493.71 688.70,493.72 689.48,493.73 690.25,493.73 691.03,493.74 691.80,493.75 692.58,493.76 693.35,493.77 694.13,493.78 694.90,493.79 695.68,493.80 696.45,493.80 697.23,493.81 698.00,493.82 698.77,493.83 699.55,493.84 700.32,493.86 701.10,493.87 701.87,493.89 702.65,493.90 703.42,493.92 704.20,493.93 704.97,493.95 705.75,493.96 706.52,493.98 707.30,493.99 708.07,494.01 708.85,494.02 709.62,494.04 710.39,494.05 711.17,494.07 711.94,494.08 712.72,494.10 713.49,494.12 714.27,494.13 715.04,494.15 715.82,494.16 716.59,494.18 717.37,494.19 718.14,494.21 718.92,494.22 719.69,494.24 720.47,494.25 721.24,494.27 722.01,494.29 722.79,494.30 723.56,494.32 724.34,494.34 725.11,494.35 725.89,494.37 726.66,494.39 727.44,494.40 728.21,494.42 728.99,494.44 729.76,494.45 730.54,494.47 731.31,494.49 732.09,494.50 732.86,494.52 733.63,494.54 734.41,494.55 735.18,494.57 735.96,494.59 736.73,494.60 737.51,494.62 738.28,494.64 739.06,494.65 739.83,494.67 740.61,494.69 741.38,494.71 742.16,494.74 742.93,494.78 743.71,494.82 744.48,494.85 745.25,494.89 746.03,494.92 746.80,494.96 747.58,494.99 748.35,495.03 749.13,495.07 749.90,495.10 750.68,495.14 751.45,495.17 752.23,495.21 753.00,495.25 753.78,495.28 754.55,495.32 755.33,495.35 756.10,495.39 756.87,495.44 757.65,495.49 758.42,495.54 759.20,495.59 759.97,495.65 760.75,495.70 761.52,495.75 762.30,495.80 763.07,495.85 763.85,495.90 764.62,495.95 765.40,496.00 766.17,496.05 766.95,496.10 767.72,496.16 768.49,496.21 769.27,496.26 770.04,496.31 770.82,496.37 771.59,496.45 772.37,496.53 773.14,496.61 773.92,496.68 774.69,496.76 775.47,496.84 776.24,496.92 777.02,497.00 777.79,497.08 778.57,497.17 779.34,497.28 780.11,497.39 780.89,497.50 781.66,497.61 782.44,497.72 783.21,497.83 783.99,497.93 784.76,498.04 785.54,498.15 786.31,498.25 787.09,498.35 787.86,498.45 788.64,498.56 789.41,498.66 790.19,498.76 790.96,498.86 791.73,498.96 792.51,499.09 793.28,499.23 794.06,499.37 794.83,499.52 795.61,499.66 796.38,499.81 797.16,499.95 797.93,500.09 798.71,500.24 799.48,500.40 800.26,500.59 801.03,500.78 801.81,500.96 802.58,501.15 803.35,501.34 804.13,501.58 804.90,501.86 805.68,502.15 806.45,502.47 807.23,502.90 808.00,503.33 808.78,503.76 809.55,504.19 810.33,505.06 811.10,505.92 811.88,506.78 812.65,508.41 813.43,510.16 814.20,512.39 814.20,494.70" fill="#c2c2c2" stroke="none"/>
<line x1="581.8" y1="494.70" x2="814.2" y2="494.70" stroke="#a8a8a8" stroke-width="0.6"/>
<rect x="581.8" y="307.8" width="232.40" height="110.10" fill="none" stroke="#1a1a1a" stroke-width="1.1"/>
<rect x="581.8" y="417.9" width="232.40" height="44.90" fill="none" stroke="#1a1a1a" stroke-width="1.1"/>
<rect x="581.8" y="462.8" width="232.40" height="65.80" fill="none" stroke="#1a1a1a" stroke-width="1.1"/>
<line x1="578.8" y1="406.90" x2="581.8" y2="406.90" stroke="#333" stroke-width="0.9"/>
<text x="577.1999999999999" y="409.10" text-anchor="end" font-size="6.6" fill="#383838" stroke="#383838" stroke-width="0.22">0.0</text>
<line x1="578.8" y1="386.72" x2="581.8" y2="386.72" stroke="#333" stroke-width="0.9"/>
<text x="577.1999999999999" y="388.92" text-anchor="end" font-size="6.6" fill="#383838" stroke="#383838" stroke-width="0.22">0.1</text>
<line x1="578.8" y1="366.55" x2="581.8" y2="366.55" stroke="#333" stroke-width="0.9"/>
<text x="577.1999999999999" y="368.75" text-anchor="end" font-size="6.6" fill="#383838" stroke="#383838" stroke-width="0.22">0.2</text>
<line x1="578.8" y1="346.38" x2="581.8" y2="346.38" stroke="#333" stroke-width="0.9"/>
<text x="577.1999999999999" y="348.57" text-anchor="end" font-size="6.6" fill="#383838" stroke="#383838" stroke-width="0.22">0.3</text>
<line x1="578.8" y1="326.20" x2="581.8" y2="326.20" stroke="#333" stroke-width="0.9"/>
<text x="577.1999999999999" y="328.40" text-anchor="end" font-size="6.6" fill="#383838" stroke="#383838" stroke-width="0.22">0.4</text>
<line x1="578.8" y1="477.44" x2="581.8" y2="477.44" stroke="#333" stroke-width="0.9"/>
<text x="577.1999999999999" y="479.64" text-anchor="end" font-size="6.6" fill="#383838" stroke="#383838" stroke-width="0.22">2</text>
<line x1="578.8" y1="494.70" x2="581.8" y2="494.70" stroke="#333" stroke-width="0.9"/>
<text x="577.1999999999999" y="496.90" text-anchor="end" font-size="6.6" fill="#383838" stroke="#383838" stroke-width="0.22">0</text>
<line x1="578.8" y1="511.96" x2="581.8" y2="511.96" stroke="#333" stroke-width="0.9"/>
<text x="577.1999999999999" y="514.16" text-anchor="end" font-size="6.6" fill="#383838" stroke="#383838" stroke-width="0.22">−2</text>
<line x1="626.50" y1="528.6" x2="626.50" y2="531.1" stroke="#333" stroke-width="0.9"/>
<text x="626.50" y="538.60" text-anchor="middle" font-size="6.6" fill="#383838" stroke="#383838" stroke-width="0.22">10000</text>
<line x1="671.50" y1="528.6" x2="671.50" y2="531.1" stroke="#333" stroke-width="0.9"/>
<text x="671.50" y="538.60" text-anchor="middle" font-size="6.6" fill="#383838" stroke="#383838" stroke-width="0.22">20000</text>
<line x1="716.50" y1="528.6" x2="716.50" y2="531.1" stroke="#333" stroke-width="0.9"/>
<text x="716.50" y="538.60" text-anchor="middle" font-size="6.6" fill="#383838" stroke="#383838" stroke-width="0.22">30000</text>
<line x1="761.50" y1="528.6" x2="761.50" y2="531.1" stroke="#333" stroke-width="0.9"/>
<text x="761.50" y="538.60" text-anchor="middle" font-size="6.6" fill="#383838" stroke="#383838" stroke-width="0.22">40000</text>
<line x1="806.50" y1="528.6" x2="806.50" y2="531.1" stroke="#333" stroke-width="0.9"/>
<text x="806.50" y="538.60" text-anchor="middle" font-size="6.6" fill="#383838" stroke="#383838" stroke-width="0.22">50000</text>
<text x="698.00" y="548.20" text-anchor="middle" font-size="7.5" fill="#1a1a1a" stroke="#1a1a1a" stroke-width="0.22">Rank in Ordered Dataset</text>
<text transform="translate(563.60,362.85) rotate(-90)" text-anchor="middle" font-size="7.5" fill="#1a1a1a" stroke="#1a1a1a" stroke-width="0.22">Enrichment Score</text>
<text transform="translate(563.60,495.70) rotate(-90)" text-anchor="middle" font-size="7.5" fill="#1a1a1a" stroke="#1a1a1a" stroke-width="0.22">Ranked metric</text>
<text x="765.60" y="316.90" font-size="6.62" fill="#1a1a1a" stroke="#1a1a1a" stroke-width="0.22">NES = 1.842</text>
<text x="765.60" y="326.10" font-size="6.62" fill="#1a1a1a" stroke="#1a1a1a" stroke-width="0.22">p.adj = 0.015</text>
<text x="765.60" y="335.30" font-size="6.62" fill="#1a1a1a" stroke="#1a1a1a" stroke-width="0.22">FDR = 0.009</text>
<text x="562.80" y="306.60" font-family='"Liberation Serif", serif' font-size="17.2" fill="#000" stroke="#000" stroke-width="0.22">F</text>
<text x="581.40" y="299.80" font-size="9.23" fill="#000" stroke="#000" stroke-width="0.22">KEGG_PARKINSONS_DISEASE</text>
</svg>
</body></html>
